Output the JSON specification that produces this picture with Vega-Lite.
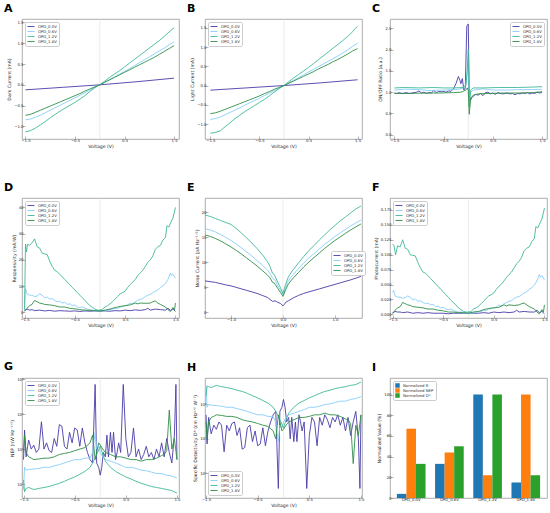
{
  "$schema": "https://vega.github.io/schema/vega-lite/v6.json",
  "autosize": {"type": "pad"},
  "padding": {"left": 3, "top": 2, "right": 3, "bottom": 2},
  "background": "white",
  "config": {
    "font": "DejaVu Sans",
    "view": {"stroke": "#999999", "strokeWidth": 0.8},
    "axis": {
      "domain": false, "grid": false, "tickSize": -3, "tickColor": "#888888", "tickWidth": 0.6,
      "labelFontSize": 3.8, "titleFontSize": 4.6, "titleFontWeight": "normal",
      "labelColor": "#222222", "titleColor": "#222222", "labelPadding": 2, "titlePadding": 2, "labelFlush": false
    },
    "legend": {
      "labelFontSize": 3.8, "symbolType": "stroke", "symbolSize": 50, "symbolStrokeWidth": 1.2,
      "clipHeight": 5, "rowPadding": 0, "padding": 2, "fillColor": "white", "strokeColor": "#cccccc",
      "cornerRadius": 1.5, "offset": 3, "labelOffset": 3, "labelColor": "#333333"
    },
    "title": {"anchor": "start", "frame": "group", "fontSize": 11, "fontWeight": "bold", "dx": -18, "offset": 5, "color": "black"},
    "line": {"strokeWidth": 0.9, "clip": true}
  },
  "datasets": {
    "curves": [
      {"p":"A","s":"OPD_0.0V","v":-1.5,"y":-0.12},{"p":"A","s":"OPD_0.0V","v":-0.75,"y":-0.06},{"p":"A","s":"OPD_0.0V","v":0,"y":0},{"p":"A","s":"OPD_0.0V","v":0.75,"y":0.075},{"p":"A","s":"OPD_0.0V","v":1.5,"y":0.16},
      {"p":"A","s":"OPD_0.6V","v":-1.5,"y":-0.84},{"p":"A","s":"OPD_0.6V","v":-1.4,"y":-0.82},{"p":"A","s":"OPD_0.6V","v":-1.3,"y":-0.78},{"p":"A","s":"OPD_0.6V","v":-1.2,"y":-0.73},{"p":"A","s":"OPD_0.6V","v":-1.1,"y":-0.67},{"p":"A","s":"OPD_0.6V","v":-1.0,"y":-0.61},{"p":"A","s":"OPD_0.6V","v":-0.9,"y":-0.55},{"p":"A","s":"OPD_0.6V","v":-0.8,"y":-0.49},{"p":"A","s":"OPD_0.6V","v":-0.7,"y":-0.43},{"p":"A","s":"OPD_0.6V","v":-0.6,"y":-0.37},{"p":"A","s":"OPD_0.6V","v":-0.5,"y":-0.31},{"p":"A","s":"OPD_0.6V","v":-0.4,"y":-0.25},{"p":"A","s":"OPD_0.6V","v":-0.3,"y":-0.19},{"p":"A","s":"OPD_0.6V","v":-0.2,"y":-0.13},{"p":"A","s":"OPD_0.6V","v":-0.1,"y":-0.06},{"p":"A","s":"OPD_0.6V","v":0,"y":0},{"p":"A","s":"OPD_0.6V","v":0.1,"y":0.06},{"p":"A","s":"OPD_0.6V","v":0.2,"y":0.13},{"p":"A","s":"OPD_0.6V","v":0.3,"y":0.19},{"p":"A","s":"OPD_0.6V","v":0.4,"y":0.26},{"p":"A","s":"OPD_0.6V","v":0.5,"y":0.32},{"p":"A","s":"OPD_0.6V","v":0.6,"y":0.39},{"p":"A","s":"OPD_0.6V","v":0.7,"y":0.46},{"p":"A","s":"OPD_0.6V","v":0.8,"y":0.53},{"p":"A","s":"OPD_0.6V","v":0.9,"y":0.6},{"p":"A","s":"OPD_0.6V","v":1.0,"y":0.67},{"p":"A","s":"OPD_0.6V","v":1.1,"y":0.74},{"p":"A","s":"OPD_0.6V","v":1.2,"y":0.81},{"p":"A","s":"OPD_0.6V","v":1.3,"y":0.88},{"p":"A","s":"OPD_0.6V","v":1.4,"y":0.96},{"p":"A","s":"OPD_0.6V","v":1.5,"y":1.03},
      {"p":"A","s":"OPD_1.2V","v":-1.5,"y":-1.13},{"p":"A","s":"OPD_1.2V","v":-1.4,"y":-1.1},{"p":"A","s":"OPD_1.2V","v":-1.3,"y":-1.04},{"p":"A","s":"OPD_1.2V","v":-1.2,"y":-0.96},{"p":"A","s":"OPD_1.2V","v":-1.1,"y":-0.88},{"p":"A","s":"OPD_1.2V","v":-1.0,"y":-0.79},{"p":"A","s":"OPD_1.2V","v":-0.9,"y":-0.71},{"p":"A","s":"OPD_1.2V","v":-0.8,"y":-0.63},{"p":"A","s":"OPD_1.2V","v":-0.7,"y":-0.56},{"p":"A","s":"OPD_1.2V","v":-0.6,"y":-0.49},{"p":"A","s":"OPD_1.2V","v":-0.5,"y":-0.42},{"p":"A","s":"OPD_1.2V","v":-0.4,"y":-0.34},{"p":"A","s":"OPD_1.2V","v":-0.3,"y":-0.26},{"p":"A","s":"OPD_1.2V","v":-0.2,"y":-0.16},{"p":"A","s":"OPD_1.2V","v":-0.1,"y":-0.07},{"p":"A","s":"OPD_1.2V","v":0,"y":0},{"p":"A","s":"OPD_1.2V","v":0.1,"y":0.09},{"p":"A","s":"OPD_1.2V","v":0.2,"y":0.18},{"p":"A","s":"OPD_1.2V","v":0.3,"y":0.26},{"p":"A","s":"OPD_1.2V","v":0.4,"y":0.34},{"p":"A","s":"OPD_1.2V","v":0.5,"y":0.43},{"p":"A","s":"OPD_1.2V","v":0.6,"y":0.52},{"p":"A","s":"OPD_1.2V","v":0.7,"y":0.61},{"p":"A","s":"OPD_1.2V","v":0.8,"y":0.7},{"p":"A","s":"OPD_1.2V","v":0.9,"y":0.79},{"p":"A","s":"OPD_1.2V","v":1.0,"y":0.88},{"p":"A","s":"OPD_1.2V","v":1.1,"y":0.97},{"p":"A","s":"OPD_1.2V","v":1.2,"y":1.06},{"p":"A","s":"OPD_1.2V","v":1.3,"y":1.16},{"p":"A","s":"OPD_1.2V","v":1.4,"y":1.27},{"p":"A","s":"OPD_1.2V","v":1.5,"y":1.37},
      {"p":"A","s":"OPD_1.8V","v":-1.5,"y":-0.73},{"p":"A","s":"OPD_1.8V","v":-1.4,"y":-0.71},{"p":"A","s":"OPD_1.8V","v":-1.3,"y":-0.66},{"p":"A","s":"OPD_1.8V","v":-1.2,"y":-0.61},{"p":"A","s":"OPD_1.8V","v":-1.1,"y":-0.56},{"p":"A","s":"OPD_1.8V","v":-1.0,"y":-0.51},{"p":"A","s":"OPD_1.8V","v":-0.9,"y":-0.46},{"p":"A","s":"OPD_1.8V","v":-0.8,"y":-0.41},{"p":"A","s":"OPD_1.8V","v":-0.7,"y":-0.36},{"p":"A","s":"OPD_1.8V","v":-0.6,"y":-0.31},{"p":"A","s":"OPD_1.8V","v":-0.5,"y":-0.26},{"p":"A","s":"OPD_1.8V","v":-0.4,"y":-0.21},{"p":"A","s":"OPD_1.8V","v":-0.3,"y":-0.15},{"p":"A","s":"OPD_1.8V","v":-0.2,"y":-0.1},{"p":"A","s":"OPD_1.8V","v":-0.1,"y":-0.05},{"p":"A","s":"OPD_1.8V","v":0,"y":0},{"p":"A","s":"OPD_1.8V","v":0.1,"y":0.06},{"p":"A","s":"OPD_1.8V","v":0.2,"y":0.12},{"p":"A","s":"OPD_1.8V","v":0.3,"y":0.18},{"p":"A","s":"OPD_1.8V","v":0.4,"y":0.24},{"p":"A","s":"OPD_1.8V","v":0.5,"y":0.3},{"p":"A","s":"OPD_1.8V","v":0.6,"y":0.36},{"p":"A","s":"OPD_1.8V","v":0.7,"y":0.42},{"p":"A","s":"OPD_1.8V","v":0.8,"y":0.48},{"p":"A","s":"OPD_1.8V","v":0.9,"y":0.54},{"p":"A","s":"OPD_1.8V","v":1.0,"y":0.6},{"p":"A","s":"OPD_1.8V","v":1.1,"y":0.66},{"p":"A","s":"OPD_1.8V","v":1.2,"y":0.73},{"p":"A","s":"OPD_1.8V","v":1.3,"y":0.8},{"p":"A","s":"OPD_1.8V","v":1.4,"y":0.87},{"p":"A","s":"OPD_1.8V","v":1.5,"y":0.94},

      {"p":"B","s":"OPD_0.0V","v":-1.5,"y":-0.12},{"p":"B","s":"OPD_0.0V","v":-0.75,"y":-0.06},{"p":"B","s":"OPD_0.0V","v":0,"y":0},{"p":"B","s":"OPD_0.0V","v":0.75,"y":0.07},{"p":"B","s":"OPD_0.0V","v":1.5,"y":0.15},
      {"p":"B","s":"OPD_0.6V","v":-1.5,"y":-0.88},{"p":"B","s":"OPD_0.6V","v":-1.4,"y":-0.86},{"p":"B","s":"OPD_0.6V","v":-1.3,"y":-0.82},{"p":"B","s":"OPD_0.6V","v":-1.2,"y":-0.76},{"p":"B","s":"OPD_0.6V","v":-1.1,"y":-0.7},{"p":"B","s":"OPD_0.6V","v":-1.0,"y":-0.64},{"p":"B","s":"OPD_0.6V","v":-0.9,"y":-0.58},{"p":"B","s":"OPD_0.6V","v":-0.8,"y":-0.51},{"p":"B","s":"OPD_0.6V","v":-0.7,"y":-0.45},{"p":"B","s":"OPD_0.6V","v":-0.6,"y":-0.39},{"p":"B","s":"OPD_0.6V","v":-0.5,"y":-0.33},{"p":"B","s":"OPD_0.6V","v":-0.4,"y":-0.26},{"p":"B","s":"OPD_0.6V","v":-0.3,"y":-0.2},{"p":"B","s":"OPD_0.6V","v":-0.2,"y":-0.14},{"p":"B","s":"OPD_0.6V","v":-0.1,"y":-0.07},{"p":"B","s":"OPD_0.6V","v":0,"y":0},{"p":"B","s":"OPD_0.6V","v":0.1,"y":0.07},{"p":"B","s":"OPD_0.6V","v":0.2,"y":0.14},{"p":"B","s":"OPD_0.6V","v":0.3,"y":0.21},{"p":"B","s":"OPD_0.6V","v":0.4,"y":0.28},{"p":"B","s":"OPD_0.6V","v":0.5,"y":0.35},{"p":"B","s":"OPD_0.6V","v":0.6,"y":0.42},{"p":"B","s":"OPD_0.6V","v":0.7,"y":0.49},{"p":"B","s":"OPD_0.6V","v":0.8,"y":0.56},{"p":"B","s":"OPD_0.6V","v":0.9,"y":0.63},{"p":"B","s":"OPD_0.6V","v":1.0,"y":0.7},{"p":"B","s":"OPD_0.6V","v":1.1,"y":0.77},{"p":"B","s":"OPD_0.6V","v":1.2,"y":0.85},{"p":"B","s":"OPD_0.6V","v":1.3,"y":0.93},{"p":"B","s":"OPD_0.6V","v":1.4,"y":1.02},{"p":"B","s":"OPD_0.6V","v":1.5,"y":1.1},
      {"p":"B","s":"OPD_1.2V","v":-1.5,"y":-1.24},{"p":"B","s":"OPD_1.2V","v":-1.4,"y":-1.22},{"p":"B","s":"OPD_1.2V","v":-1.3,"y":-1.18},{"p":"B","s":"OPD_1.2V","v":-1.2,"y":-1.07},{"p":"B","s":"OPD_1.2V","v":-1.1,"y":-0.97},{"p":"B","s":"OPD_1.2V","v":-1.0,"y":-0.86},{"p":"B","s":"OPD_1.2V","v":-0.9,"y":-0.77},{"p":"B","s":"OPD_1.2V","v":-0.8,"y":-0.68},{"p":"B","s":"OPD_1.2V","v":-0.7,"y":-0.6},{"p":"B","s":"OPD_1.2V","v":-0.6,"y":-0.52},{"p":"B","s":"OPD_1.2V","v":-0.5,"y":-0.44},{"p":"B","s":"OPD_1.2V","v":-0.4,"y":-0.36},{"p":"B","s":"OPD_1.2V","v":-0.3,"y":-0.27},{"p":"B","s":"OPD_1.2V","v":-0.2,"y":-0.17},{"p":"B","s":"OPD_1.2V","v":-0.1,"y":-0.08},{"p":"B","s":"OPD_1.2V","v":0,"y":0},{"p":"B","s":"OPD_1.2V","v":0.1,"y":0.1},{"p":"B","s":"OPD_1.2V","v":0.2,"y":0.2},{"p":"B","s":"OPD_1.2V","v":0.3,"y":0.29},{"p":"B","s":"OPD_1.2V","v":0.4,"y":0.38},{"p":"B","s":"OPD_1.2V","v":0.5,"y":0.47},{"p":"B","s":"OPD_1.2V","v":0.6,"y":0.57},{"p":"B","s":"OPD_1.2V","v":0.7,"y":0.67},{"p":"B","s":"OPD_1.2V","v":0.8,"y":0.77},{"p":"B","s":"OPD_1.2V","v":0.9,"y":0.87},{"p":"B","s":"OPD_1.2V","v":1.0,"y":0.97},{"p":"B","s":"OPD_1.2V","v":1.1,"y":1.07},{"p":"B","s":"OPD_1.2V","v":1.2,"y":1.17},{"p":"B","s":"OPD_1.2V","v":1.3,"y":1.28},{"p":"B","s":"OPD_1.2V","v":1.4,"y":1.4},{"p":"B","s":"OPD_1.2V","v":1.45,"y":1.48},{"p":"B","s":"OPD_1.2V","v":1.5,"y":1.54},
      {"p":"B","s":"OPD_1.8V","v":-1.5,"y":-0.73},{"p":"B","s":"OPD_1.8V","v":-1.4,"y":-0.71},{"p":"B","s":"OPD_1.8V","v":-1.3,"y":-0.67},{"p":"B","s":"OPD_1.8V","v":-1.2,"y":-0.62},{"p":"B","s":"OPD_1.8V","v":-1.1,"y":-0.57},{"p":"B","s":"OPD_1.8V","v":-1.0,"y":-0.52},{"p":"B","s":"OPD_1.8V","v":-0.9,"y":-0.47},{"p":"B","s":"OPD_1.8V","v":-0.8,"y":-0.42},{"p":"B","s":"OPD_1.8V","v":-0.7,"y":-0.37},{"p":"B","s":"OPD_1.8V","v":-0.6,"y":-0.32},{"p":"B","s":"OPD_1.8V","v":-0.5,"y":-0.27},{"p":"B","s":"OPD_1.8V","v":-0.4,"y":-0.21},{"p":"B","s":"OPD_1.8V","v":-0.3,"y":-0.16},{"p":"B","s":"OPD_1.8V","v":-0.2,"y":-0.1},{"p":"B","s":"OPD_1.8V","v":-0.1,"y":-0.05},{"p":"B","s":"OPD_1.8V","v":0,"y":0},{"p":"B","s":"OPD_1.8V","v":0.1,"y":0.06},{"p":"B","s":"OPD_1.8V","v":0.2,"y":0.12},{"p":"B","s":"OPD_1.8V","v":0.3,"y":0.18},{"p":"B","s":"OPD_1.8V","v":0.4,"y":0.24},{"p":"B","s":"OPD_1.8V","v":0.5,"y":0.3},{"p":"B","s":"OPD_1.8V","v":0.6,"y":0.36},{"p":"B","s":"OPD_1.8V","v":0.7,"y":0.43},{"p":"B","s":"OPD_1.8V","v":0.8,"y":0.49},{"p":"B","s":"OPD_1.8V","v":0.9,"y":0.55},{"p":"B","s":"OPD_1.8V","v":1.0,"y":0.62},{"p":"B","s":"OPD_1.8V","v":1.1,"y":0.68},{"p":"B","s":"OPD_1.8V","v":1.2,"y":0.75},{"p":"B","s":"OPD_1.8V","v":1.3,"y":0.82},{"p":"B","s":"OPD_1.8V","v":1.4,"y":0.9},{"p":"B","s":"OPD_1.8V","v":1.5,"y":0.96},

      {"p":"C","s":"OPD_0.0V","v":-1.5,"y":0.98},{"p":"C","s":"OPD_0.0V","v":-1.45,"y":0.97},{"p":"C","s":"OPD_0.0V","v":-1.4,"y":0.99},{"p":"C","s":"OPD_0.0V","v":-1.35,"y":0.97},{"p":"C","s":"OPD_0.0V","v":-1.3,"y":0.98},{"p":"C","s":"OPD_0.0V","v":-1.25,"y":0.99},{"p":"C","s":"OPD_0.0V","v":-1.2,"y":0.97},{"p":"C","s":"OPD_0.0V","v":-1.15,"y":0.98},{"p":"C","s":"OPD_0.0V","v":-1.1,"y":0.99},{"p":"C","s":"OPD_0.0V","v":-1.05,"y":1.0},{"p":"C","s":"OPD_0.0V","v":-1.0,"y":1.03},{"p":"C","s":"OPD_0.0V","v":-0.95,"y":0.98},{"p":"C","s":"OPD_0.0V","v":-0.9,"y":1.0},{"p":"C","s":"OPD_0.0V","v":-0.85,"y":0.97},{"p":"C","s":"OPD_0.0V","v":-0.8,"y":0.99},{"p":"C","s":"OPD_0.0V","v":-0.75,"y":0.98},{"p":"C","s":"OPD_0.0V","v":-0.7,"y":1.04},{"p":"C","s":"OPD_0.0V","v":-0.65,"y":0.99},{"p":"C","s":"OPD_0.0V","v":-0.6,"y":1.02},{"p":"C","s":"OPD_0.0V","v":-0.55,"y":1.01},{"p":"C","s":"OPD_0.0V","v":-0.5,"y":1.02},{"p":"C","s":"OPD_0.0V","v":-0.45,"y":1.0},{"p":"C","s":"OPD_0.0V","v":-0.4,"y":1.03},{"p":"C","s":"OPD_0.0V","v":-0.35,"y":1.02},{"p":"C","s":"OPD_0.0V","v":-0.3,"y":1.08},{"p":"C","s":"OPD_0.0V","v":-0.25,"y":1.2},{"p":"C","s":"OPD_0.0V","v":-0.2,"y":1.37},{"p":"C","s":"OPD_0.0V","v":-0.17,"y":1.28},{"p":"C","s":"OPD_0.0V","v":-0.15,"y":1.2},{"p":"C","s":"OPD_0.0V","v":-0.12,"y":1.32},{"p":"C","s":"OPD_0.0V","v":-0.09,"y":1.05},{"p":"C","s":"OPD_0.0V","v":-0.06,"y":1.1},{"p":"C","s":"OPD_0.0V","v":-0.03,"y":2.55},{"p":"C","s":"OPD_0.0V","v":0.0,"y":2.6},{"p":"C","s":"OPD_0.0V","v":0.02,"y":1.0},{"p":"C","s":"OPD_0.0V","v":0.04,"y":0.8},{"p":"C","s":"OPD_0.0V","v":0.07,"y":0.87},{"p":"C","s":"OPD_0.0V","v":0.1,"y":0.9},{"p":"C","s":"OPD_0.0V","v":0.15,"y":0.95},{"p":"C","s":"OPD_0.0V","v":0.2,"y":0.93},{"p":"C","s":"OPD_0.0V","v":0.25,"y":0.97},{"p":"C","s":"OPD_0.0V","v":0.3,"y":0.92},{"p":"C","s":"OPD_0.0V","v":0.35,"y":0.99},{"p":"C","s":"OPD_0.0V","v":0.4,"y":1.0},{"p":"C","s":"OPD_0.0V","v":0.45,"y":0.96},{"p":"C","s":"OPD_0.0V","v":0.5,"y":0.98},{"p":"C","s":"OPD_0.0V","v":0.55,"y":0.95},{"p":"C","s":"OPD_0.0V","v":0.6,"y":0.99},{"p":"C","s":"OPD_0.0V","v":0.65,"y":0.97},{"p":"C","s":"OPD_0.0V","v":0.7,"y":0.96},{"p":"C","s":"OPD_0.0V","v":0.75,"y":0.97},{"p":"C","s":"OPD_0.0V","v":0.8,"y":0.98},{"p":"C","s":"OPD_0.0V","v":0.85,"y":0.96},{"p":"C","s":"OPD_0.0V","v":0.9,"y":0.97},{"p":"C","s":"OPD_0.0V","v":0.95,"y":0.94},{"p":"C","s":"OPD_0.0V","v":1.0,"y":0.97},{"p":"C","s":"OPD_0.0V","v":1.05,"y":0.96},{"p":"C","s":"OPD_0.0V","v":1.1,"y":0.98},{"p":"C","s":"OPD_0.0V","v":1.15,"y":0.97},{"p":"C","s":"OPD_0.0V","v":1.2,"y":0.99},{"p":"C","s":"OPD_0.0V","v":1.25,"y":0.96},{"p":"C","s":"OPD_0.0V","v":1.3,"y":0.98},{"p":"C","s":"OPD_0.0V","v":1.35,"y":0.97},{"p":"C","s":"OPD_0.0V","v":1.4,"y":1.0},{"p":"C","s":"OPD_0.0V","v":1.45,"y":0.98},{"p":"C","s":"OPD_0.0V","v":1.5,"y":1.0},
      {"p":"C","s":"OPD_0.6V","v":-1.5,"y":1.05},{"p":"C","s":"OPD_0.6V","v":-1.3,"y":1.07},{"p":"C","s":"OPD_0.6V","v":-1.0,"y":1.06},{"p":"C","s":"OPD_0.6V","v":-0.8,"y":1.04},{"p":"C","s":"OPD_0.6V","v":-0.5,"y":1.05},{"p":"C","s":"OPD_0.6V","v":-0.2,"y":1.07},{"p":"C","s":"OPD_0.6V","v":-0.1,"y":1.1},{"p":"C","s":"OPD_0.6V","v":-0.05,"y":1.15},{"p":"C","s":"OPD_0.6V","v":-0.02,"y":1.5},{"p":"C","s":"OPD_0.6V","v":0.0,"y":1.8},{"p":"C","s":"OPD_0.6V","v":0.02,"y":0.9},{"p":"C","s":"OPD_0.6V","v":0.05,"y":1.0},{"p":"C","s":"OPD_0.6V","v":0.1,"y":1.05},{"p":"C","s":"OPD_0.6V","v":0.3,"y":1.08},{"p":"C","s":"OPD_0.6V","v":0.5,"y":1.05},{"p":"C","s":"OPD_0.6V","v":0.8,"y":1.05},{"p":"C","s":"OPD_0.6V","v":1.0,"y":1.06},{"p":"C","s":"OPD_0.6V","v":1.3,"y":1.06},{"p":"C","s":"OPD_0.6V","v":1.5,"y":1.07},
      {"p":"C","s":"OPD_1.2V","v":-1.5,"y":1.1},{"p":"C","s":"OPD_1.2V","v":-1.3,"y":1.11},{"p":"C","s":"OPD_1.2V","v":-1.0,"y":1.1},{"p":"C","s":"OPD_1.2V","v":-0.7,"y":1.11},{"p":"C","s":"OPD_1.2V","v":-0.5,"y":1.1},{"p":"C","s":"OPD_1.2V","v":-0.3,"y":1.1},{"p":"C","s":"OPD_1.2V","v":-0.1,"y":1.11},{"p":"C","s":"OPD_1.2V","v":-0.05,"y":1.15},{"p":"C","s":"OPD_1.2V","v":-0.02,"y":1.5},{"p":"C","s":"OPD_1.2V","v":0.0,"y":2.0},{"p":"C","s":"OPD_1.2V","v":0.02,"y":0.65},{"p":"C","s":"OPD_1.2V","v":0.05,"y":1.05},{"p":"C","s":"OPD_1.2V","v":0.1,"y":1.1},{"p":"C","s":"OPD_1.2V","v":0.3,"y":1.1},{"p":"C","s":"OPD_1.2V","v":0.6,"y":1.11},{"p":"C","s":"OPD_1.2V","v":1.0,"y":1.11},{"p":"C","s":"OPD_1.2V","v":1.3,"y":1.12},{"p":"C","s":"OPD_1.2V","v":1.5,"y":1.13},
      {"p":"C","s":"OPD_1.8V","v":-1.5,"y":0.97},{"p":"C","s":"OPD_1.8V","v":-1.2,"y":0.97},{"p":"C","s":"OPD_1.8V","v":-0.9,"y":0.98},{"p":"C","s":"OPD_1.8V","v":-0.6,"y":0.98},{"p":"C","s":"OPD_1.8V","v":-0.3,"y":0.99},{"p":"C","s":"OPD_1.8V","v":-0.15,"y":1.0},{"p":"C","s":"OPD_1.8V","v":-0.1,"y":1.02},{"p":"C","s":"OPD_1.8V","v":-0.05,"y":1.05},{"p":"C","s":"OPD_1.8V","v":-0.02,"y":1.1},{"p":"C","s":"OPD_1.8V","v":0.0,"y":1.05},{"p":"C","s":"OPD_1.8V","v":0.02,"y":0.48},{"p":"C","s":"OPD_1.8V","v":0.05,"y":0.85},{"p":"C","s":"OPD_1.8V","v":0.1,"y":0.93},{"p":"C","s":"OPD_1.8V","v":0.2,"y":0.96},{"p":"C","s":"OPD_1.8V","v":0.4,"y":0.97},{"p":"C","s":"OPD_1.8V","v":0.7,"y":0.98},{"p":"C","s":"OPD_1.8V","v":1.0,"y":0.98},{"p":"C","s":"OPD_1.8V","v":1.3,"y":0.99},{"p":"C","s":"OPD_1.8V","v":1.5,"y":1.01},

      {"p":"D","s":"OPD_0.0V","v":-1.5,"y":0.5},{"p":"D","s":"OPD_0.0V","v":-1.45,"y":1.2},{"p":"D","s":"OPD_0.0V","v":-1.4,"y":0.8},{"p":"D","s":"OPD_0.0V","v":-1.35,"y":1.0},{"p":"D","s":"OPD_0.0V","v":-1.3,"y":0.6},{"p":"D","s":"OPD_0.0V","v":-1.2,"y":0.8},{"p":"D","s":"OPD_0.0V","v":-1.1,"y":0.5},{"p":"D","s":"OPD_0.0V","v":-1.0,"y":0.7},{"p":"D","s":"OPD_0.0V","v":-0.9,"y":0.4},{"p":"D","s":"OPD_0.0V","v":-0.8,"y":0.6},{"p":"D","s":"OPD_0.0V","v":-0.7,"y":0.5},{"p":"D","s":"OPD_0.0V","v":-0.6,"y":0.4},{"p":"D","s":"OPD_0.0V","v":-0.5,"y":0.5},{"p":"D","s":"OPD_0.0V","v":-0.4,"y":0.3},{"p":"D","s":"OPD_0.0V","v":-0.3,"y":0.5},{"p":"D","s":"OPD_0.0V","v":-0.2,"y":0.4},{"p":"D","s":"OPD_0.0V","v":-0.1,"y":0.5},{"p":"D","s":"OPD_0.0V","v":0,"y":0.4},{"p":"D","s":"OPD_0.0V","v":0.1,"y":0.5},{"p":"D","s":"OPD_0.0V","v":0.2,"y":0.4},{"p":"D","s":"OPD_0.0V","v":0.3,"y":0.6},{"p":"D","s":"OPD_0.0V","v":0.4,"y":0.5},{"p":"D","s":"OPD_0.0V","v":0.5,"y":0.8},{"p":"D","s":"OPD_0.0V","v":0.6,"y":0.6},{"p":"D","s":"OPD_0.0V","v":0.7,"y":0.9},{"p":"D","s":"OPD_0.0V","v":0.8,"y":0.7},{"p":"D","s":"OPD_0.0V","v":0.9,"y":1.0},{"p":"D","s":"OPD_0.0V","v":0.95,"y":1.5},{"p":"D","s":"OPD_0.0V","v":1.0,"y":0.8},{"p":"D","s":"OPD_0.0V","v":1.1,"y":1.2},{"p":"D","s":"OPD_0.0V","v":1.2,"y":1.0},{"p":"D","s":"OPD_0.0V","v":1.3,"y":0.8},{"p":"D","s":"OPD_0.0V","v":1.35,"y":1.5},{"p":"D","s":"OPD_0.0V","v":1.4,"y":0.7},{"p":"D","s":"OPD_0.0V","v":1.45,"y":1.2},{"p":"D","s":"OPD_0.0V","v":1.5,"y":0.3},
      {"p":"D","s":"OPD_0.6V","v":-1.5,"y":1},{"p":"D","s":"OPD_0.6V","v":-1.48,"y":9},{"p":"D","s":"OPD_0.6V","v":-1.45,"y":7},{"p":"D","s":"OPD_0.6V","v":-1.4,"y":6.5},{"p":"D","s":"OPD_0.6V","v":-1.35,"y":6.5},{"p":"D","s":"OPD_0.6V","v":-1.3,"y":6},{"p":"D","s":"OPD_0.6V","v":-1.25,"y":6.2},{"p":"D","s":"OPD_0.6V","v":-1.2,"y":7},{"p":"D","s":"OPD_0.6V","v":-1.15,"y":6.5},{"p":"D","s":"OPD_0.6V","v":-1.1,"y":5.5},{"p":"D","s":"OPD_0.6V","v":-1.05,"y":5.8},{"p":"D","s":"OPD_0.6V","v":-1.0,"y":5},{"p":"D","s":"OPD_0.6V","v":-0.95,"y":5.2},{"p":"D","s":"OPD_0.6V","v":-0.9,"y":4.5},{"p":"D","s":"OPD_0.6V","v":-0.85,"y":4},{"p":"D","s":"OPD_0.6V","v":-0.8,"y":4.2},{"p":"D","s":"OPD_0.6V","v":-0.75,"y":3.5},{"p":"D","s":"OPD_0.6V","v":-0.7,"y":3.8},{"p":"D","s":"OPD_0.6V","v":-0.65,"y":3},{"p":"D","s":"OPD_0.6V","v":-0.6,"y":3.2},{"p":"D","s":"OPD_0.6V","v":-0.55,"y":2.5},{"p":"D","s":"OPD_0.6V","v":-0.5,"y":2.8},{"p":"D","s":"OPD_0.6V","v":-0.45,"y":2},{"p":"D","s":"OPD_0.6V","v":-0.4,"y":1.8},{"p":"D","s":"OPD_0.6V","v":-0.35,"y":2},{"p":"D","s":"OPD_0.6V","v":-0.3,"y":1.5},{"p":"D","s":"OPD_0.6V","v":-0.25,"y":1.2},{"p":"D","s":"OPD_0.6V","v":-0.2,"y":1},{"p":"D","s":"OPD_0.6V","v":-0.15,"y":0.8},{"p":"D","s":"OPD_0.6V","v":-0.1,"y":0.6},{"p":"D","s":"OPD_0.6V","v":-0.05,"y":0.5},{"p":"D","s":"OPD_0.6V","v":0,"y":0.5},{"p":"D","s":"OPD_0.6V","v":0.05,"y":0.5},{"p":"D","s":"OPD_0.6V","v":0.1,"y":0.6},{"p":"D","s":"OPD_0.6V","v":0.15,"y":0.8},{"p":"D","s":"OPD_0.6V","v":0.2,"y":1},{"p":"D","s":"OPD_0.6V","v":0.25,"y":1.2},{"p":"D","s":"OPD_0.6V","v":0.3,"y":1.5},{"p":"D","s":"OPD_0.6V","v":0.35,"y":1.3},{"p":"D","s":"OPD_0.6V","v":0.4,"y":2},{"p":"D","s":"OPD_0.6V","v":0.45,"y":2.2},{"p":"D","s":"OPD_0.6V","v":0.5,"y":2.5},{"p":"D","s":"OPD_0.6V","v":0.55,"y":2.8},{"p":"D","s":"OPD_0.6V","v":0.6,"y":3.5},{"p":"D","s":"OPD_0.6V","v":0.65,"y":3.2},{"p":"D","s":"OPD_0.6V","v":0.7,"y":4},{"p":"D","s":"OPD_0.6V","v":0.75,"y":4.5},{"p":"D","s":"OPD_0.6V","v":0.8,"y":5},{"p":"D","s":"OPD_0.6V","v":0.85,"y":5.2},{"p":"D","s":"OPD_0.6V","v":0.9,"y":6},{"p":"D","s":"OPD_0.6V","v":0.95,"y":6.5},{"p":"D","s":"OPD_0.6V","v":1.0,"y":6.8},{"p":"D","s":"OPD_0.6V","v":1.05,"y":7.5},{"p":"D","s":"OPD_0.6V","v":1.1,"y":8},{"p":"D","s":"OPD_0.6V","v":1.15,"y":8.5},{"p":"D","s":"OPD_0.6V","v":1.2,"y":9.5},{"p":"D","s":"OPD_0.6V","v":1.25,"y":10},{"p":"D","s":"OPD_0.6V","v":1.3,"y":11},{"p":"D","s":"OPD_0.6V","v":1.35,"y":12.5},{"p":"D","s":"OPD_0.6V","v":1.4,"y":15},{"p":"D","s":"OPD_0.6V","v":1.42,"y":14},{"p":"D","s":"OPD_0.6V","v":1.45,"y":14.5},{"p":"D","s":"OPD_0.6V","v":1.5,"y":13},
      {"p":"D","s":"OPD_1.2V","v":-1.5,"y":1},{"p":"D","s":"OPD_1.2V","v":-1.48,"y":26},{"p":"D","s":"OPD_1.2V","v":-1.46,"y":23},{"p":"D","s":"OPD_1.2V","v":-1.44,"y":26},{"p":"D","s":"OPD_1.2V","v":-1.4,"y":25.5},{"p":"D","s":"OPD_1.2V","v":-1.35,"y":26.5},{"p":"D","s":"OPD_1.2V","v":-1.3,"y":28},{"p":"D","s":"OPD_1.2V","v":-1.25,"y":25},{"p":"D","s":"OPD_1.2V","v":-1.2,"y":24.5},{"p":"D","s":"OPD_1.2V","v":-1.15,"y":22.5},{"p":"D","s":"OPD_1.2V","v":-1.1,"y":22.3},{"p":"D","s":"OPD_1.2V","v":-1.05,"y":22},{"p":"D","s":"OPD_1.2V","v":-1.0,"y":19.5},{"p":"D","s":"OPD_1.2V","v":-0.95,"y":17.5},{"p":"D","s":"OPD_1.2V","v":-0.9,"y":16},{"p":"D","s":"OPD_1.2V","v":-0.85,"y":15.5},{"p":"D","s":"OPD_1.2V","v":-0.8,"y":14.5},{"p":"D","s":"OPD_1.2V","v":-0.75,"y":13.5},{"p":"D","s":"OPD_1.2V","v":-0.7,"y":12.5},{"p":"D","s":"OPD_1.2V","v":-0.65,"y":11.5},{"p":"D","s":"OPD_1.2V","v":-0.6,"y":10.5},{"p":"D","s":"OPD_1.2V","v":-0.55,"y":9.5},{"p":"D","s":"OPD_1.2V","v":-0.5,"y":8.5},{"p":"D","s":"OPD_1.2V","v":-0.45,"y":7.5},{"p":"D","s":"OPD_1.2V","v":-0.4,"y":6.5},{"p":"D","s":"OPD_1.2V","v":-0.35,"y":5.5},{"p":"D","s":"OPD_1.2V","v":-0.3,"y":4.5},{"p":"D","s":"OPD_1.2V","v":-0.25,"y":3.5},{"p":"D","s":"OPD_1.2V","v":-0.2,"y":2.5},{"p":"D","s":"OPD_1.2V","v":-0.15,"y":1.8},{"p":"D","s":"OPD_1.2V","v":-0.1,"y":1.2},{"p":"D","s":"OPD_1.2V","v":-0.05,"y":0.8},{"p":"D","s":"OPD_1.2V","v":0,"y":0.8},{"p":"D","s":"OPD_1.2V","v":0.05,"y":1.2},{"p":"D","s":"OPD_1.2V","v":0.1,"y":2},{"p":"D","s":"OPD_1.2V","v":0.15,"y":2.5},{"p":"D","s":"OPD_1.2V","v":0.2,"y":3.2},{"p":"D","s":"OPD_1.2V","v":0.25,"y":4},{"p":"D","s":"OPD_1.2V","v":0.3,"y":5},{"p":"D","s":"OPD_1.2V","v":0.35,"y":6},{"p":"D","s":"OPD_1.2V","v":0.4,"y":7},{"p":"D","s":"OPD_1.2V","v":0.45,"y":7.5},{"p":"D","s":"OPD_1.2V","v":0.5,"y":8},{"p":"D","s":"OPD_1.2V","v":0.55,"y":9.5},{"p":"D","s":"OPD_1.2V","v":0.6,"y":10.5},{"p":"D","s":"OPD_1.2V","v":0.65,"y":11.5},{"p":"D","s":"OPD_1.2V","v":0.7,"y":12.5},{"p":"D","s":"OPD_1.2V","v":0.75,"y":14},{"p":"D","s":"OPD_1.2V","v":0.8,"y":15},{"p":"D","s":"OPD_1.2V","v":0.85,"y":16},{"p":"D","s":"OPD_1.2V","v":0.9,"y":17.5},{"p":"D","s":"OPD_1.2V","v":0.95,"y":19},{"p":"D","s":"OPD_1.2V","v":1.0,"y":20},{"p":"D","s":"OPD_1.2V","v":1.05,"y":21.5},{"p":"D","s":"OPD_1.2V","v":1.1,"y":24},{"p":"D","s":"OPD_1.2V","v":1.15,"y":25},{"p":"D","s":"OPD_1.2V","v":1.2,"y":25.5},{"p":"D","s":"OPD_1.2V","v":1.25,"y":27.5},{"p":"D","s":"OPD_1.2V","v":1.3,"y":28.5},{"p":"D","s":"OPD_1.2V","v":1.33,"y":33},{"p":"D","s":"OPD_1.2V","v":1.37,"y":32.5},{"p":"D","s":"OPD_1.2V","v":1.4,"y":34},{"p":"D","s":"OPD_1.2V","v":1.45,"y":36},{"p":"D","s":"OPD_1.2V","v":1.5,"y":40},
      {"p":"D","s":"OPD_1.8V","v":-1.5,"y":0.5},{"p":"D","s":"OPD_1.8V","v":-1.45,"y":1.5},{"p":"D","s":"OPD_1.8V","v":-1.4,"y":2.5},{"p":"D","s":"OPD_1.8V","v":-1.35,"y":3},{"p":"D","s":"OPD_1.8V","v":-1.3,"y":4.5},{"p":"D","s":"OPD_1.8V","v":-1.25,"y":4},{"p":"D","s":"OPD_1.8V","v":-1.2,"y":3.5},{"p":"D","s":"OPD_1.8V","v":-1.15,"y":3.3},{"p":"D","s":"OPD_1.8V","v":-1.1,"y":3},{"p":"D","s":"OPD_1.8V","v":-1.0,"y":2.8},{"p":"D","s":"OPD_1.8V","v":-0.9,"y":2.5},{"p":"D","s":"OPD_1.8V","v":-0.8,"y":2},{"p":"D","s":"OPD_1.8V","v":-0.7,"y":2},{"p":"D","s":"OPD_1.8V","v":-0.6,"y":1.5},{"p":"D","s":"OPD_1.8V","v":-0.5,"y":1.3},{"p":"D","s":"OPD_1.8V","v":-0.4,"y":1},{"p":"D","s":"OPD_1.8V","v":-0.3,"y":0.8},{"p":"D","s":"OPD_1.8V","v":-0.2,"y":0.7},{"p":"D","s":"OPD_1.8V","v":-0.1,"y":0.6},{"p":"D","s":"OPD_1.8V","v":0,"y":0.5},{"p":"D","s":"OPD_1.8V","v":0.1,"y":0.8},{"p":"D","s":"OPD_1.8V","v":0.2,"y":1.2},{"p":"D","s":"OPD_1.8V","v":0.3,"y":1.8},{"p":"D","s":"OPD_1.8V","v":0.4,"y":2.2},{"p":"D","s":"OPD_1.8V","v":0.5,"y":2.5},{"p":"D","s":"OPD_1.8V","v":0.6,"y":2.8},{"p":"D","s":"OPD_1.8V","v":0.7,"y":3.5},{"p":"D","s":"OPD_1.8V","v":0.75,"y":3.2},{"p":"D","s":"OPD_1.8V","v":0.8,"y":3.5},{"p":"D","s":"OPD_1.8V","v":0.9,"y":3.4},{"p":"D","s":"OPD_1.8V","v":1.0,"y":3.5},{"p":"D","s":"OPD_1.8V","v":1.05,"y":4},{"p":"D","s":"OPD_1.8V","v":1.1,"y":4.3},{"p":"D","s":"OPD_1.8V","v":1.15,"y":3.5},{"p":"D","s":"OPD_1.8V","v":1.2,"y":3},{"p":"D","s":"OPD_1.8V","v":1.25,"y":2.5},{"p":"D","s":"OPD_1.8V","v":1.3,"y":2},{"p":"D","s":"OPD_1.8V","v":1.35,"y":1},{"p":"D","s":"OPD_1.8V","v":1.4,"y":0.3},{"p":"D","s":"OPD_1.8V","v":1.45,"y":1.8},{"p":"D","s":"OPD_1.8V","v":1.48,"y":0.8},{"p":"D","s":"OPD_1.8V","v":1.5,"y":3.5},

      {"p":"E","s":"OPD_0.0V","v":-1.5,"y":6.3},{"p":"E","s":"OPD_0.0V","v":-1.3,"y":6.0},{"p":"E","s":"OPD_0.0V","v":-1.1,"y":5.5},{"p":"E","s":"OPD_0.0V","v":-1.0,"y":5.3},{"p":"E","s":"OPD_0.0V","v":-0.9,"y":5.0},{"p":"E","s":"OPD_0.0V","v":-0.7,"y":4.4},{"p":"E","s":"OPD_0.0V","v":-0.5,"y":3.8},{"p":"E","s":"OPD_0.0V","v":-0.4,"y":3.4},{"p":"E","s":"OPD_0.0V","v":-0.3,"y":3.0},{"p":"E","s":"OPD_0.0V","v":-0.25,"y":2.6},{"p":"E","s":"OPD_0.0V","v":-0.2,"y":2.2},{"p":"E","s":"OPD_0.0V","v":-0.15,"y":2.3},{"p":"E","s":"OPD_0.0V","v":-0.1,"y":2.0},{"p":"E","s":"OPD_0.0V","v":-0.05,"y":1.8},{"p":"E","s":"OPD_0.0V","v":0,"y":1.3},{"p":"E","s":"OPD_0.0V","v":0.03,"y":1.6},{"p":"E","s":"OPD_0.0V","v":0.05,"y":2.0},{"p":"E","s":"OPD_0.0V","v":0.1,"y":2.3},{"p":"E","s":"OPD_0.0V","v":0.2,"y":2.9},{"p":"E","s":"OPD_0.0V","v":0.3,"y":3.4},{"p":"E","s":"OPD_0.0V","v":0.4,"y":3.8},{"p":"E","s":"OPD_0.0V","v":0.5,"y":4.1},{"p":"E","s":"OPD_0.0V","v":0.7,"y":4.7},{"p":"E","s":"OPD_0.0V","v":0.9,"y":5.3},{"p":"E","s":"OPD_0.0V","v":1.1,"y":5.9},{"p":"E","s":"OPD_0.0V","v":1.3,"y":6.5},{"p":"E","s":"OPD_0.0V","v":1.5,"y":7.2},
      {"p":"E","s":"OPD_0.6V","v":-1.5,"y":16.7},{"p":"E","s":"OPD_0.6V","v":-1.4,"y":16.5},{"p":"E","s":"OPD_0.6V","v":-1.3,"y":16.1},{"p":"E","s":"OPD_0.6V","v":-1.2,"y":15.6},{"p":"E","s":"OPD_0.6V","v":-1.1,"y":15.0},{"p":"E","s":"OPD_0.6V","v":-1.0,"y":14.4},{"p":"E","s":"OPD_0.6V","v":-0.9,"y":13.7},{"p":"E","s":"OPD_0.6V","v":-0.8,"y":12.9},{"p":"E","s":"OPD_0.6V","v":-0.7,"y":12.1},{"p":"E","s":"OPD_0.6V","v":-0.6,"y":11.3},{"p":"E","s":"OPD_0.6V","v":-0.5,"y":10.4},{"p":"E","s":"OPD_0.6V","v":-0.4,"y":9.5},{"p":"E","s":"OPD_0.6V","v":-0.3,"y":8.5},{"p":"E","s":"OPD_0.6V","v":-0.25,"y":7.8},{"p":"E","s":"OPD_0.6V","v":-0.2,"y":6.8},{"p":"E","s":"OPD_0.6V","v":-0.17,"y":6.6},{"p":"E","s":"OPD_0.6V","v":-0.15,"y":6.4},{"p":"E","s":"OPD_0.6V","v":-0.1,"y":5.3},{"p":"E","s":"OPD_0.6V","v":-0.05,"y":4.5},{"p":"E","s":"OPD_0.6V","v":0,"y":3.5},{"p":"E","s":"OPD_0.6V","v":0.05,"y":5.0},{"p":"E","s":"OPD_0.6V","v":0.1,"y":6.2},{"p":"E","s":"OPD_0.6V","v":0.15,"y":7.0},{"p":"E","s":"OPD_0.6V","v":0.2,"y":7.6},{"p":"E","s":"OPD_0.6V","v":0.3,"y":8.8},{"p":"E","s":"OPD_0.6V","v":0.4,"y":9.9},{"p":"E","s":"OPD_0.6V","v":0.5,"y":10.9},{"p":"E","s":"OPD_0.6V","v":0.6,"y":11.8},{"p":"E","s":"OPD_0.6V","v":0.7,"y":12.7},{"p":"E","s":"OPD_0.6V","v":0.8,"y":13.6},{"p":"E","s":"OPD_0.6V","v":0.9,"y":14.4},{"p":"E","s":"OPD_0.6V","v":1.0,"y":15.2},{"p":"E","s":"OPD_0.6V","v":1.1,"y":15.9},{"p":"E","s":"OPD_0.6V","v":1.2,"y":16.6},{"p":"E","s":"OPD_0.6V","v":1.3,"y":17.3},{"p":"E","s":"OPD_0.6V","v":1.4,"y":17.9},{"p":"E","s":"OPD_0.6V","v":1.5,"y":18.5},
      {"p":"E","s":"OPD_1.2V","v":-1.5,"y":19.5},{"p":"E","s":"OPD_1.2V","v":-1.4,"y":19.2},{"p":"E","s":"OPD_1.2V","v":-1.3,"y":18.8},{"p":"E","s":"OPD_1.2V","v":-1.2,"y":18.4},{"p":"E","s":"OPD_1.2V","v":-1.1,"y":18.0},{"p":"E","s":"OPD_1.2V","v":-1.0,"y":17.6},{"p":"E","s":"OPD_1.2V","v":-0.9,"y":16.8},{"p":"E","s":"OPD_1.2V","v":-0.8,"y":15.9},{"p":"E","s":"OPD_1.2V","v":-0.7,"y":14.9},{"p":"E","s":"OPD_1.2V","v":-0.6,"y":13.9},{"p":"E","s":"OPD_1.2V","v":-0.5,"y":12.8},{"p":"E","s":"OPD_1.2V","v":-0.4,"y":11.6},{"p":"E","s":"OPD_1.2V","v":-0.3,"y":10.2},{"p":"E","s":"OPD_1.2V","v":-0.25,"y":9.2},{"p":"E","s":"OPD_1.2V","v":-0.2,"y":7.8},{"p":"E","s":"OPD_1.2V","v":-0.17,"y":7.6},{"p":"E","s":"OPD_1.2V","v":-0.15,"y":7.2},{"p":"E","s":"OPD_1.2V","v":-0.1,"y":6.0},{"p":"E","s":"OPD_1.2V","v":-0.05,"y":5.0},{"p":"E","s":"OPD_1.2V","v":0,"y":3.8},{"p":"E","s":"OPD_1.2V","v":0.05,"y":5.6},{"p":"E","s":"OPD_1.2V","v":0.1,"y":7.0},{"p":"E","s":"OPD_1.2V","v":0.15,"y":7.9},{"p":"E","s":"OPD_1.2V","v":0.2,"y":8.6},{"p":"E","s":"OPD_1.2V","v":0.3,"y":9.9},{"p":"E","s":"OPD_1.2V","v":0.4,"y":11.2},{"p":"E","s":"OPD_1.2V","v":0.5,"y":12.4},{"p":"E","s":"OPD_1.2V","v":0.6,"y":13.4},{"p":"E","s":"OPD_1.2V","v":0.7,"y":14.5},{"p":"E","s":"OPD_1.2V","v":0.8,"y":15.5},{"p":"E","s":"OPD_1.2V","v":0.9,"y":16.5},{"p":"E","s":"OPD_1.2V","v":1.0,"y":17.4},{"p":"E","s":"OPD_1.2V","v":1.1,"y":18.3},{"p":"E","s":"OPD_1.2V","v":1.2,"y":19.1},{"p":"E","s":"OPD_1.2V","v":1.3,"y":19.9},{"p":"E","s":"OPD_1.2V","v":1.4,"y":20.7},{"p":"E","s":"OPD_1.2V","v":1.5,"y":21.3},
      {"p":"E","s":"OPD_1.8V","v":-1.5,"y":15.5},{"p":"E","s":"OPD_1.8V","v":-1.4,"y":15.2},{"p":"E","s":"OPD_1.8V","v":-1.3,"y":14.8},{"p":"E","s":"OPD_1.8V","v":-1.2,"y":14.3},{"p":"E","s":"OPD_1.8V","v":-1.1,"y":13.7},{"p":"E","s":"OPD_1.8V","v":-1.0,"y":13.1},{"p":"E","s":"OPD_1.8V","v":-0.9,"y":12.4},{"p":"E","s":"OPD_1.8V","v":-0.8,"y":11.7},{"p":"E","s":"OPD_1.8V","v":-0.7,"y":10.9},{"p":"E","s":"OPD_1.8V","v":-0.6,"y":10.1},{"p":"E","s":"OPD_1.8V","v":-0.5,"y":9.3},{"p":"E","s":"OPD_1.8V","v":-0.4,"y":8.4},{"p":"E","s":"OPD_1.8V","v":-0.3,"y":7.5},{"p":"E","s":"OPD_1.8V","v":-0.25,"y":6.9},{"p":"E","s":"OPD_1.8V","v":-0.2,"y":6.0},{"p":"E","s":"OPD_1.8V","v":-0.17,"y":5.9},{"p":"E","s":"OPD_1.8V","v":-0.15,"y":5.6},{"p":"E","s":"OPD_1.8V","v":-0.1,"y":4.8},{"p":"E","s":"OPD_1.8V","v":-0.05,"y":4.0},{"p":"E","s":"OPD_1.8V","v":0,"y":3.2},{"p":"E","s":"OPD_1.8V","v":0.05,"y":4.5},{"p":"E","s":"OPD_1.8V","v":0.1,"y":5.6},{"p":"E","s":"OPD_1.8V","v":0.15,"y":6.3},{"p":"E","s":"OPD_1.8V","v":0.2,"y":6.9},{"p":"E","s":"OPD_1.8V","v":0.3,"y":8.0},{"p":"E","s":"OPD_1.8V","v":0.4,"y":9.1},{"p":"E","s":"OPD_1.8V","v":0.5,"y":10.1},{"p":"E","s":"OPD_1.8V","v":0.6,"y":11.0},{"p":"E","s":"OPD_1.8V","v":0.7,"y":11.9},{"p":"E","s":"OPD_1.8V","v":0.8,"y":12.8},{"p":"E","s":"OPD_1.8V","v":0.9,"y":13.6},{"p":"E","s":"OPD_1.8V","v":1.0,"y":14.4},{"p":"E","s":"OPD_1.8V","v":1.1,"y":15.1},{"p":"E","s":"OPD_1.8V","v":1.2,"y":15.8},{"p":"E","s":"OPD_1.8V","v":1.3,"y":16.5},{"p":"E","s":"OPD_1.8V","v":1.4,"y":17.1},{"p":"E","s":"OPD_1.8V","v":1.5,"y":17.7},

      {"p":"F","s":"OPD_0.0V","v":-1.5,"y":0.002},{"p":"F","s":"OPD_0.0V","v":-1.45,"y":0.005},{"p":"F","s":"OPD_0.0V","v":-1.4,"y":0.004},{"p":"F","s":"OPD_0.0V","v":-1.35,"y":0.004},{"p":"F","s":"OPD_0.0V","v":-1.3,"y":0.003},{"p":"F","s":"OPD_0.0V","v":-1.2,"y":0.004},{"p":"F","s":"OPD_0.0V","v":-1.1,"y":0.002},{"p":"F","s":"OPD_0.0V","v":-1.0,"y":0.003},{"p":"F","s":"OPD_0.0V","v":-0.9,"y":0.002},{"p":"F","s":"OPD_0.0V","v":-0.8,"y":0.003},{"p":"F","s":"OPD_0.0V","v":-0.7,"y":0.002},{"p":"F","s":"OPD_0.0V","v":-0.6,"y":0.002},{"p":"F","s":"OPD_0.0V","v":-0.5,"y":0.002},{"p":"F","s":"OPD_0.0V","v":-0.4,"y":0.001},{"p":"F","s":"OPD_0.0V","v":-0.3,"y":0.002},{"p":"F","s":"OPD_0.0V","v":-0.2,"y":0.002},{"p":"F","s":"OPD_0.0V","v":-0.1,"y":0.002},{"p":"F","s":"OPD_0.0V","v":0,"y":0.002},{"p":"F","s":"OPD_0.0V","v":0.1,"y":0.002},{"p":"F","s":"OPD_0.0V","v":0.2,"y":0.002},{"p":"F","s":"OPD_0.0V","v":0.3,"y":0.003},{"p":"F","s":"OPD_0.0V","v":0.4,"y":0.002},{"p":"F","s":"OPD_0.0V","v":0.5,"y":0.004},{"p":"F","s":"OPD_0.0V","v":0.6,"y":0.003},{"p":"F","s":"OPD_0.0V","v":0.7,"y":0.004},{"p":"F","s":"OPD_0.0V","v":0.8,"y":0.003},{"p":"F","s":"OPD_0.0V","v":0.9,"y":0.004},{"p":"F","s":"OPD_0.0V","v":0.95,"y":0.007},{"p":"F","s":"OPD_0.0V","v":1.0,"y":0.004},{"p":"F","s":"OPD_0.0V","v":1.1,"y":0.005},{"p":"F","s":"OPD_0.0V","v":1.2,"y":0.004},{"p":"F","s":"OPD_0.0V","v":1.3,"y":0.004},{"p":"F","s":"OPD_0.0V","v":1.35,"y":0.007},{"p":"F","s":"OPD_0.0V","v":1.4,"y":0.003},{"p":"F","s":"OPD_0.0V","v":1.45,"y":0.005},{"p":"F","s":"OPD_0.0V","v":1.5,"y":0.001},
      {"p":"F","s":"OPD_0.6V","v":-1.5,"y":0.037},{"p":"F","s":"OPD_0.6V","v":-1.48,"y":0.04},{"p":"F","s":"OPD_0.6V","v":-1.45,"y":0.031},{"p":"F","s":"OPD_0.6V","v":-1.4,"y":0.029},{"p":"F","s":"OPD_0.6V","v":-1.35,"y":0.029},{"p":"F","s":"OPD_0.6V","v":-1.3,"y":0.027},{"p":"F","s":"OPD_0.6V","v":-1.25,"y":0.028},{"p":"F","s":"OPD_0.6V","v":-1.2,"y":0.031},{"p":"F","s":"OPD_0.6V","v":-1.15,"y":0.029},{"p":"F","s":"OPD_0.6V","v":-1.1,"y":0.024},{"p":"F","s":"OPD_0.6V","v":-1.05,"y":0.026},{"p":"F","s":"OPD_0.6V","v":-1.0,"y":0.022},{"p":"F","s":"OPD_0.6V","v":-0.95,"y":0.023},{"p":"F","s":"OPD_0.6V","v":-0.9,"y":0.02},{"p":"F","s":"OPD_0.6V","v":-0.85,"y":0.018},{"p":"F","s":"OPD_0.6V","v":-0.8,"y":0.019},{"p":"F","s":"OPD_0.6V","v":-0.75,"y":0.016},{"p":"F","s":"OPD_0.6V","v":-0.7,"y":0.017},{"p":"F","s":"OPD_0.6V","v":-0.65,"y":0.013},{"p":"F","s":"OPD_0.6V","v":-0.6,"y":0.014},{"p":"F","s":"OPD_0.6V","v":-0.55,"y":0.011},{"p":"F","s":"OPD_0.6V","v":-0.5,"y":0.012},{"p":"F","s":"OPD_0.6V","v":-0.45,"y":0.009},{"p":"F","s":"OPD_0.6V","v":-0.4,"y":0.008},{"p":"F","s":"OPD_0.6V","v":-0.35,"y":0.009},{"p":"F","s":"OPD_0.6V","v":-0.3,"y":0.007},{"p":"F","s":"OPD_0.6V","v":-0.25,"y":0.005},{"p":"F","s":"OPD_0.6V","v":-0.2,"y":0.004},{"p":"F","s":"OPD_0.6V","v":-0.15,"y":0.004},{"p":"F","s":"OPD_0.6V","v":-0.1,"y":0.003},{"p":"F","s":"OPD_0.6V","v":-0.05,"y":0.002},{"p":"F","s":"OPD_0.6V","v":0,"y":0.002},{"p":"F","s":"OPD_0.6V","v":0.05,"y":0.002},{"p":"F","s":"OPD_0.6V","v":0.1,"y":0.003},{"p":"F","s":"OPD_0.6V","v":0.15,"y":0.004},{"p":"F","s":"OPD_0.6V","v":0.2,"y":0.004},{"p":"F","s":"OPD_0.6V","v":0.25,"y":0.005},{"p":"F","s":"OPD_0.6V","v":0.3,"y":0.007},{"p":"F","s":"OPD_0.6V","v":0.35,"y":0.006},{"p":"F","s":"OPD_0.6V","v":0.4,"y":0.009},{"p":"F","s":"OPD_0.6V","v":0.45,"y":0.01},{"p":"F","s":"OPD_0.6V","v":0.5,"y":0.011},{"p":"F","s":"OPD_0.6V","v":0.55,"y":0.012},{"p":"F","s":"OPD_0.6V","v":0.6,"y":0.016},{"p":"F","s":"OPD_0.6V","v":0.65,"y":0.014},{"p":"F","s":"OPD_0.6V","v":0.7,"y":0.018},{"p":"F","s":"OPD_0.6V","v":0.75,"y":0.02},{"p":"F","s":"OPD_0.6V","v":0.8,"y":0.022},{"p":"F","s":"OPD_0.6V","v":0.85,"y":0.023},{"p":"F","s":"OPD_0.6V","v":0.9,"y":0.027},{"p":"F","s":"OPD_0.6V","v":0.95,"y":0.029},{"p":"F","s":"OPD_0.6V","v":1.0,"y":0.03},{"p":"F","s":"OPD_0.6V","v":1.05,"y":0.033},{"p":"F","s":"OPD_0.6V","v":1.1,"y":0.036},{"p":"F","s":"OPD_0.6V","v":1.15,"y":0.038},{"p":"F","s":"OPD_0.6V","v":1.2,"y":0.042},{"p":"F","s":"OPD_0.6V","v":1.25,"y":0.045},{"p":"F","s":"OPD_0.6V","v":1.3,"y":0.049},{"p":"F","s":"OPD_0.6V","v":1.35,"y":0.056},{"p":"F","s":"OPD_0.6V","v":1.4,"y":0.067},{"p":"F","s":"OPD_0.6V","v":1.42,"y":0.062},{"p":"F","s":"OPD_0.6V","v":1.45,"y":0.065},{"p":"F","s":"OPD_0.6V","v":1.5,"y":0.058},
      {"p":"F","s":"OPD_1.2V","v":-1.5,"y":0.118},{"p":"F","s":"OPD_1.2V","v":-1.47,"y":0.115},{"p":"F","s":"OPD_1.2V","v":-1.44,"y":0.1},{"p":"F","s":"OPD_1.2V","v":-1.4,"y":0.115},{"p":"F","s":"OPD_1.2V","v":-1.35,"y":0.113},{"p":"F","s":"OPD_1.2V","v":-1.3,"y":0.125},{"p":"F","s":"OPD_1.2V","v":-1.25,"y":0.111},{"p":"F","s":"OPD_1.2V","v":-1.2,"y":0.109},{"p":"F","s":"OPD_1.2V","v":-1.15,"y":0.1},{"p":"F","s":"OPD_1.2V","v":-1.1,"y":0.099},{"p":"F","s":"OPD_1.2V","v":-1.05,"y":0.098},{"p":"F","s":"OPD_1.2V","v":-1.0,"y":0.087},{"p":"F","s":"OPD_1.2V","v":-0.95,"y":0.078},{"p":"F","s":"OPD_1.2V","v":-0.9,"y":0.071},{"p":"F","s":"OPD_1.2V","v":-0.85,"y":0.069},{"p":"F","s":"OPD_1.2V","v":-0.8,"y":0.065},{"p":"F","s":"OPD_1.2V","v":-0.75,"y":0.06},{"p":"F","s":"OPD_1.2V","v":-0.7,"y":0.056},{"p":"F","s":"OPD_1.2V","v":-0.65,"y":0.051},{"p":"F","s":"OPD_1.2V","v":-0.6,"y":0.047},{"p":"F","s":"OPD_1.2V","v":-0.55,"y":0.042},{"p":"F","s":"OPD_1.2V","v":-0.5,"y":0.038},{"p":"F","s":"OPD_1.2V","v":-0.45,"y":0.033},{"p":"F","s":"OPD_1.2V","v":-0.4,"y":0.029},{"p":"F","s":"OPD_1.2V","v":-0.35,"y":0.024},{"p":"F","s":"OPD_1.2V","v":-0.3,"y":0.02},{"p":"F","s":"OPD_1.2V","v":-0.25,"y":0.016},{"p":"F","s":"OPD_1.2V","v":-0.2,"y":0.011},{"p":"F","s":"OPD_1.2V","v":-0.15,"y":0.008},{"p":"F","s":"OPD_1.2V","v":-0.1,"y":0.005},{"p":"F","s":"OPD_1.2V","v":-0.05,"y":0.004},{"p":"F","s":"OPD_1.2V","v":0,"y":0.004},{"p":"F","s":"OPD_1.2V","v":0.05,"y":0.005},{"p":"F","s":"OPD_1.2V","v":0.1,"y":0.009},{"p":"F","s":"OPD_1.2V","v":0.15,"y":0.011},{"p":"F","s":"OPD_1.2V","v":0.2,"y":0.014},{"p":"F","s":"OPD_1.2V","v":0.25,"y":0.018},{"p":"F","s":"OPD_1.2V","v":0.3,"y":0.022},{"p":"F","s":"OPD_1.2V","v":0.35,"y":0.027},{"p":"F","s":"OPD_1.2V","v":0.4,"y":0.031},{"p":"F","s":"OPD_1.2V","v":0.45,"y":0.033},{"p":"F","s":"OPD_1.2V","v":0.5,"y":0.036},{"p":"F","s":"OPD_1.2V","v":0.55,"y":0.042},{"p":"F","s":"OPD_1.2V","v":0.6,"y":0.047},{"p":"F","s":"OPD_1.2V","v":0.65,"y":0.051},{"p":"F","s":"OPD_1.2V","v":0.7,"y":0.056},{"p":"F","s":"OPD_1.2V","v":0.75,"y":0.062},{"p":"F","s":"OPD_1.2V","v":0.8,"y":0.067},{"p":"F","s":"OPD_1.2V","v":0.85,"y":0.071},{"p":"F","s":"OPD_1.2V","v":0.9,"y":0.078},{"p":"F","s":"OPD_1.2V","v":0.95,"y":0.085},{"p":"F","s":"OPD_1.2V","v":1.0,"y":0.089},{"p":"F","s":"OPD_1.2V","v":1.05,"y":0.096},{"p":"F","s":"OPD_1.2V","v":1.1,"y":0.107},{"p":"F","s":"OPD_1.2V","v":1.15,"y":0.111},{"p":"F","s":"OPD_1.2V","v":1.2,"y":0.113},{"p":"F","s":"OPD_1.2V","v":1.25,"y":0.122},{"p":"F","s":"OPD_1.2V","v":1.3,"y":0.127},{"p":"F","s":"OPD_1.2V","v":1.33,"y":0.147},{"p":"F","s":"OPD_1.2V","v":1.37,"y":0.145},{"p":"F","s":"OPD_1.2V","v":1.4,"y":0.151},{"p":"F","s":"OPD_1.2V","v":1.45,"y":0.16},{"p":"F","s":"OPD_1.2V","v":1.5,"y":0.178},
      {"p":"F","s":"OPD_1.8V","v":-1.5,"y":0.002},{"p":"F","s":"OPD_1.8V","v":-1.45,"y":0.007},{"p":"F","s":"OPD_1.8V","v":-1.4,"y":0.011},{"p":"F","s":"OPD_1.8V","v":-1.35,"y":0.013},{"p":"F","s":"OPD_1.8V","v":-1.3,"y":0.02},{"p":"F","s":"OPD_1.8V","v":-1.25,"y":0.018},{"p":"F","s":"OPD_1.8V","v":-1.2,"y":0.016},{"p":"F","s":"OPD_1.8V","v":-1.15,"y":0.015},{"p":"F","s":"OPD_1.8V","v":-1.1,"y":0.013},{"p":"F","s":"OPD_1.8V","v":-1.0,"y":0.012},{"p":"F","s":"OPD_1.8V","v":-0.9,"y":0.011},{"p":"F","s":"OPD_1.8V","v":-0.8,"y":0.009},{"p":"F","s":"OPD_1.8V","v":-0.7,"y":0.009},{"p":"F","s":"OPD_1.8V","v":-0.6,"y":0.007},{"p":"F","s":"OPD_1.8V","v":-0.5,"y":0.006},{"p":"F","s":"OPD_1.8V","v":-0.4,"y":0.004},{"p":"F","s":"OPD_1.8V","v":-0.3,"y":0.004},{"p":"F","s":"OPD_1.8V","v":-0.2,"y":0.003},{"p":"F","s":"OPD_1.8V","v":-0.1,"y":0.003},{"p":"F","s":"OPD_1.8V","v":0,"y":0.002},{"p":"F","s":"OPD_1.8V","v":0.1,"y":0.004},{"p":"F","s":"OPD_1.8V","v":0.2,"y":0.005},{"p":"F","s":"OPD_1.8V","v":0.3,"y":0.008},{"p":"F","s":"OPD_1.8V","v":0.4,"y":0.01},{"p":"F","s":"OPD_1.8V","v":0.5,"y":0.011},{"p":"F","s":"OPD_1.8V","v":0.6,"y":0.012},{"p":"F","s":"OPD_1.8V","v":0.7,"y":0.016},{"p":"F","s":"OPD_1.8V","v":0.75,"y":0.014},{"p":"F","s":"OPD_1.8V","v":0.8,"y":0.016},{"p":"F","s":"OPD_1.8V","v":0.9,"y":0.015},{"p":"F","s":"OPD_1.8V","v":1.0,"y":0.016},{"p":"F","s":"OPD_1.8V","v":1.05,"y":0.018},{"p":"F","s":"OPD_1.8V","v":1.1,"y":0.019},{"p":"F","s":"OPD_1.8V","v":1.15,"y":0.016},{"p":"F","s":"OPD_1.8V","v":1.2,"y":0.013},{"p":"F","s":"OPD_1.8V","v":1.25,"y":0.011},{"p":"F","s":"OPD_1.8V","v":1.3,"y":0.009},{"p":"F","s":"OPD_1.8V","v":1.35,"y":0.004},{"p":"F","s":"OPD_1.8V","v":1.4,"y":0.001},{"p":"F","s":"OPD_1.8V","v":1.45,"y":0.008},{"p":"F","s":"OPD_1.8V","v":1.48,"y":0.004},{"p":"F","s":"OPD_1.8V","v":1.5,"y":0.016},

      {"p":"G","s":"OPD_0.0V","v":-1.5,"y":5},{"p":"G","s":"OPD_0.0V","v":-1.48,"y":35},{"p":"G","s":"OPD_0.0V","v":-1.45,"y":6},{"p":"G","s":"OPD_0.0V","v":-1.42,"y":12},{"p":"G","s":"OPD_0.0V","v":-1.4,"y":18},{"p":"G","s":"OPD_0.0V","v":-1.35,"y":10},{"p":"G","s":"OPD_0.0V","v":-1.3,"y":13},{"p":"G","s":"OPD_0.0V","v":-1.25,"y":8},{"p":"G","s":"OPD_0.0V","v":-1.2,"y":10},{"p":"G","s":"OPD_0.0V","v":-1.15,"y":60},{"p":"G","s":"OPD_0.0V","v":-1.1,"y":10},{"p":"G","s":"OPD_0.0V","v":-1.05,"y":15},{"p":"G","s":"OPD_0.0V","v":-1.0,"y":9},{"p":"G","s":"OPD_0.0V","v":-0.95,"y":8},{"p":"G","s":"OPD_0.0V","v":-0.9,"y":20},{"p":"G","s":"OPD_0.0V","v":-0.85,"y":12},{"p":"G","s":"OPD_0.0V","v":-0.8,"y":50},{"p":"G","s":"OPD_0.0V","v":-0.75,"y":45},{"p":"G","s":"OPD_0.0V","v":-0.7,"y":12},{"p":"G","s":"OPD_0.0V","v":-0.65,"y":10},{"p":"G","s":"OPD_0.0V","v":-0.6,"y":30},{"p":"G","s":"OPD_0.0V","v":-0.55,"y":15},{"p":"G","s":"OPD_0.0V","v":-0.5,"y":40},{"p":"G","s":"OPD_0.0V","v":-0.45,"y":35},{"p":"G","s":"OPD_0.0V","v":-0.4,"y":12},{"p":"G","s":"OPD_0.0V","v":-0.35,"y":40},{"p":"G","s":"OPD_0.0V","v":-0.3,"y":15},{"p":"G","s":"OPD_0.0V","v":-0.25,"y":8},{"p":"G","s":"OPD_0.0V","v":-0.2,"y":5},{"p":"G","s":"OPD_0.0V","v":-0.15,"y":4},{"p":"G","s":"OPD_0.0V","v":-0.1,"y":700},{"p":"G","s":"OPD_0.0V","v":-0.07,"y":4},{"p":"G","s":"OPD_0.0V","v":-0.03,"y":3},{"p":"G","s":"OPD_0.0V","v":0.0,"y":1.8},{"p":"G","s":"OPD_0.0V","v":0.03,"y":3},{"p":"G","s":"OPD_0.0V","v":0.06,"y":8},{"p":"G","s":"OPD_0.0V","v":0.1,"y":6},{"p":"G","s":"OPD_0.0V","v":0.13,"y":25},{"p":"G","s":"OPD_0.0V","v":0.16,"y":6},{"p":"G","s":"OPD_0.0V","v":0.2,"y":30},{"p":"G","s":"OPD_0.0V","v":0.23,"y":8},{"p":"G","s":"OPD_0.0V","v":0.26,"y":30},{"p":"G","s":"OPD_0.0V","v":0.3,"y":5},{"p":"G","s":"OPD_0.0V","v":0.33,"y":8},{"p":"G","s":"OPD_0.0V","v":0.36,"y":15},{"p":"G","s":"OPD_0.0V","v":0.4,"y":8},{"p":"G","s":"OPD_0.0V","v":0.45,"y":700},{"p":"G","s":"OPD_0.0V","v":0.5,"y":20},{"p":"G","s":"OPD_0.0V","v":0.55,"y":6},{"p":"G","s":"OPD_0.0V","v":0.6,"y":8},{"p":"G","s":"OPD_0.0V","v":0.65,"y":40},{"p":"G","s":"OPD_0.0V","v":0.7,"y":6},{"p":"G","s":"OPD_0.0V","v":0.75,"y":10},{"p":"G","s":"OPD_0.0V","v":0.8,"y":5},{"p":"G","s":"OPD_0.0V","v":0.85,"y":7},{"p":"G","s":"OPD_0.0V","v":0.9,"y":12},{"p":"G","s":"OPD_0.0V","v":0.95,"y":6},{"p":"G","s":"OPD_0.0V","v":1.0,"y":8},{"p":"G","s":"OPD_0.0V","v":1.05,"y":5},{"p":"G","s":"OPD_0.0V","v":1.1,"y":10},{"p":"G","s":"OPD_0.0V","v":1.15,"y":6},{"p":"G","s":"OPD_0.0V","v":1.2,"y":15},{"p":"G","s":"OPD_0.0V","v":1.25,"y":6},{"p":"G","s":"OPD_0.0V","v":1.3,"y":20},{"p":"G","s":"OPD_0.0V","v":1.35,"y":8},{"p":"G","s":"OPD_0.0V","v":1.4,"y":4},{"p":"G","s":"OPD_0.0V","v":1.45,"y":25},{"p":"G","s":"OPD_0.0V","v":1.48,"y":700},{"p":"G","s":"OPD_0.0V","v":1.5,"y":5},
      {"p":"G","s":"OPD_0.6V","v":-1.5,"y":0.7},{"p":"G","s":"OPD_0.6V","v":-1.48,"y":3},{"p":"G","s":"OPD_0.6V","v":-1.45,"y":2.5},{"p":"G","s":"OPD_0.6V","v":-1.4,"y":2.6},{"p":"G","s":"OPD_0.6V","v":-1.3,"y":2.7},{"p":"G","s":"OPD_0.6V","v":-1.2,"y":2.8},{"p":"G","s":"OPD_0.6V","v":-1.1,"y":3},{"p":"G","s":"OPD_0.6V","v":-1.0,"y":3},{"p":"G","s":"OPD_0.6V","v":-0.9,"y":3.3},{"p":"G","s":"OPD_0.6V","v":-0.8,"y":3.6},{"p":"G","s":"OPD_0.6V","v":-0.7,"y":4},{"p":"G","s":"OPD_0.6V","v":-0.6,"y":4.5},{"p":"G","s":"OPD_0.6V","v":-0.5,"y":5},{"p":"G","s":"OPD_0.6V","v":-0.4,"y":5},{"p":"G","s":"OPD_0.6V","v":-0.3,"y":5.5},{"p":"G","s":"OPD_0.6V","v":-0.2,"y":5.5},{"p":"G","s":"OPD_0.6V","v":-0.15,"y":8},{"p":"G","s":"OPD_0.6V","v":-0.1,"y":30},{"p":"G","s":"OPD_0.6V","v":-0.07,"y":10},{"p":"G","s":"OPD_0.6V","v":-0.03,"y":12},{"p":"G","s":"OPD_0.6V","v":0.0,"y":8},{"p":"G","s":"OPD_0.6V","v":0.05,"y":6},{"p":"G","s":"OPD_0.6V","v":0.1,"y":5},{"p":"G","s":"OPD_0.6V","v":0.2,"y":4.5},{"p":"G","s":"OPD_0.6V","v":0.3,"y":4},{"p":"G","s":"OPD_0.6V","v":0.4,"y":3.5},{"p":"G","s":"OPD_0.6V","v":0.5,"y":3},{"p":"G","s":"OPD_0.6V","v":0.6,"y":3},{"p":"G","s":"OPD_0.6V","v":0.7,"y":2.8},{"p":"G","s":"OPD_0.6V","v":0.8,"y":2.5},{"p":"G","s":"OPD_0.6V","v":0.9,"y":2.4},{"p":"G","s":"OPD_0.6V","v":1.0,"y":2.2},{"p":"G","s":"OPD_0.6V","v":1.1,"y":2},{"p":"G","s":"OPD_0.6V","v":1.2,"y":2},{"p":"G","s":"OPD_0.6V","v":1.3,"y":1.8},{"p":"G","s":"OPD_0.6V","v":1.4,"y":1.7},{"p":"G","s":"OPD_0.6V","v":1.5,"y":1.5},
      {"p":"G","s":"OPD_1.2V","v":-1.5,"y":1.3},{"p":"G","s":"OPD_1.2V","v":-1.48,"y":0.6},{"p":"G","s":"OPD_1.2V","v":-1.45,"y":0.75},{"p":"G","s":"OPD_1.2V","v":-1.4,"y":0.8},{"p":"G","s":"OPD_1.2V","v":-1.3,"y":0.7},{"p":"G","s":"OPD_1.2V","v":-1.2,"y":0.75},{"p":"G","s":"OPD_1.2V","v":-1.1,"y":0.8},{"p":"G","s":"OPD_1.2V","v":-1.0,"y":0.85},{"p":"G","s":"OPD_1.2V","v":-0.9,"y":0.95},{"p":"G","s":"OPD_1.2V","v":-0.8,"y":1.05},{"p":"G","s":"OPD_1.2V","v":-0.7,"y":1.2},{"p":"G","s":"OPD_1.2V","v":-0.6,"y":1.4},{"p":"G","s":"OPD_1.2V","v":-0.5,"y":1.6},{"p":"G","s":"OPD_1.2V","v":-0.4,"y":1.9},{"p":"G","s":"OPD_1.2V","v":-0.3,"y":2.3},{"p":"G","s":"OPD_1.2V","v":-0.2,"y":3},{"p":"G","s":"OPD_1.2V","v":-0.15,"y":4},{"p":"G","s":"OPD_1.2V","v":-0.1,"y":5.5},{"p":"G","s":"OPD_1.2V","v":-0.05,"y":8},{"p":"G","s":"OPD_1.2V","v":0.0,"y":12},{"p":"G","s":"OPD_1.2V","v":0.05,"y":7},{"p":"G","s":"OPD_1.2V","v":0.1,"y":4.5},{"p":"G","s":"OPD_1.2V","v":0.2,"y":3},{"p":"G","s":"OPD_1.2V","v":0.3,"y":2.3},{"p":"G","s":"OPD_1.2V","v":0.4,"y":1.9},{"p":"G","s":"OPD_1.2V","v":0.5,"y":1.6},{"p":"G","s":"OPD_1.2V","v":0.6,"y":1.4},{"p":"G","s":"OPD_1.2V","v":0.7,"y":1.2},{"p":"G","s":"OPD_1.2V","v":0.8,"y":1.05},{"p":"G","s":"OPD_1.2V","v":0.9,"y":0.95},{"p":"G","s":"OPD_1.2V","v":1.0,"y":0.85},{"p":"G","s":"OPD_1.2V","v":1.1,"y":0.8},{"p":"G","s":"OPD_1.2V","v":1.2,"y":0.75},{"p":"G","s":"OPD_1.2V","v":1.3,"y":0.7},{"p":"G","s":"OPD_1.2V","v":1.4,"y":0.65},{"p":"G","s":"OPD_1.2V","v":1.5,"y":0.55},
      {"p":"G","s":"OPD_1.8V","v":-1.5,"y":8},{"p":"G","s":"OPD_1.8V","v":-1.48,"y":25},{"p":"G","s":"OPD_1.8V","v":-1.45,"y":8},{"p":"G","s":"OPD_1.8V","v":-1.4,"y":6},{"p":"G","s":"OPD_1.8V","v":-1.35,"y":5.5},{"p":"G","s":"OPD_1.8V","v":-1.3,"y":5},{"p":"G","s":"OPD_1.8V","v":-1.2,"y":5.2},{"p":"G","s":"OPD_1.8V","v":-1.1,"y":5.5},{"p":"G","s":"OPD_1.8V","v":-1.0,"y":5.5},{"p":"G","s":"OPD_1.8V","v":-0.9,"y":6},{"p":"G","s":"OPD_1.8V","v":-0.8,"y":7},{"p":"G","s":"OPD_1.8V","v":-0.7,"y":7.5},{"p":"G","s":"OPD_1.8V","v":-0.6,"y":8},{"p":"G","s":"OPD_1.8V","v":-0.5,"y":9},{"p":"G","s":"OPD_1.8V","v":-0.4,"y":10},{"p":"G","s":"OPD_1.8V","v":-0.3,"y":11},{"p":"G","s":"OPD_1.8V","v":-0.2,"y":15},{"p":"G","s":"OPD_1.8V","v":-0.15,"y":25},{"p":"G","s":"OPD_1.8V","v":-0.12,"y":10},{"p":"G","s":"OPD_1.8V","v":-0.1,"y":5},{"p":"G","s":"OPD_1.8V","v":-0.07,"y":8},{"p":"G","s":"OPD_1.8V","v":-0.03,"y":15},{"p":"G","s":"OPD_1.8V","v":0.0,"y":13},{"p":"G","s":"OPD_1.8V","v":0.05,"y":10},{"p":"G","s":"OPD_1.8V","v":0.1,"y":8},{"p":"G","s":"OPD_1.8V","v":0.2,"y":7},{"p":"G","s":"OPD_1.8V","v":0.3,"y":6},{"p":"G","s":"OPD_1.8V","v":0.4,"y":6},{"p":"G","s":"OPD_1.8V","v":0.5,"y":5.5},{"p":"G","s":"OPD_1.8V","v":0.6,"y":5},{"p":"G","s":"OPD_1.8V","v":0.7,"y":5},{"p":"G","s":"OPD_1.8V","v":0.8,"y":4.5},{"p":"G","s":"OPD_1.8V","v":0.9,"y":5},{"p":"G","s":"OPD_1.8V","v":1.0,"y":5},{"p":"G","s":"OPD_1.8V","v":1.1,"y":5.5},{"p":"G","s":"OPD_1.8V","v":1.2,"y":6.5},{"p":"G","s":"OPD_1.8V","v":1.25,"y":7},{"p":"G","s":"OPD_1.8V","v":1.3,"y":9},{"p":"G","s":"OPD_1.8V","v":1.35,"y":130},{"p":"G","s":"OPD_1.8V","v":1.4,"y":10},{"p":"G","s":"OPD_1.8V","v":1.45,"y":20},{"p":"G","s":"OPD_1.8V","v":1.5,"y":5},

      {"p":"H","s":"OPD_0.0V","v":-1.5,"y":5e7},{"p":"H","s":"OPD_0.0V","v":-1.48,"y":7.1e6},{"p":"H","s":"OPD_0.0V","v":-1.45,"y":4.2e7},{"p":"H","s":"OPD_0.0V","v":-1.42,"y":2.1e7},{"p":"H","s":"OPD_0.0V","v":-1.4,"y":1.4e7},{"p":"H","s":"OPD_0.0V","v":-1.35,"y":2.5e7},{"p":"H","s":"OPD_0.0V","v":-1.3,"y":1.9e7},{"p":"H","s":"OPD_0.0V","v":-1.25,"y":3.1e7},{"p":"H","s":"OPD_0.0V","v":-1.2,"y":2.5e7},{"p":"H","s":"OPD_0.0V","v":-1.15,"y":4.2e6},{"p":"H","s":"OPD_0.0V","v":-1.1,"y":2.5e7},{"p":"H","s":"OPD_0.0V","v":-1.05,"y":1.7e7},{"p":"H","s":"OPD_0.0V","v":-1.0,"y":2.8e7},{"p":"H","s":"OPD_0.0V","v":-0.95,"y":3.1e7},{"p":"H","s":"OPD_0.0V","v":-0.9,"y":1.25e7},{"p":"H","s":"OPD_0.0V","v":-0.85,"y":2.1e7},{"p":"H","s":"OPD_0.0V","v":-0.8,"y":5e6},{"p":"H","s":"OPD_0.0V","v":-0.75,"y":5.6e6},{"p":"H","s":"OPD_0.0V","v":-0.7,"y":2.1e7},{"p":"H","s":"OPD_0.0V","v":-0.65,"y":2.5e7},{"p":"H","s":"OPD_0.0V","v":-0.6,"y":8.3e6},{"p":"H","s":"OPD_0.0V","v":-0.55,"y":1.7e7},{"p":"H","s":"OPD_0.0V","v":-0.5,"y":6.3e6},{"p":"H","s":"OPD_0.0V","v":-0.45,"y":7.1e6},{"p":"H","s":"OPD_0.0V","v":-0.4,"y":2.1e7},{"p":"H","s":"OPD_0.0V","v":-0.35,"y":6.3e6},{"p":"H","s":"OPD_0.0V","v":-0.3,"y":1.7e7},{"p":"H","s":"OPD_0.0V","v":-0.25,"y":3.1e7},{"p":"H","s":"OPD_0.0V","v":-0.2,"y":5e7},{"p":"H","s":"OPD_0.0V","v":-0.15,"y":6.3e7},{"p":"H","s":"OPD_0.0V","v":-0.1,"y":3.6e5},{"p":"H","s":"OPD_0.0V","v":-0.07,"y":6.3e7},{"p":"H","s":"OPD_0.0V","v":-0.03,"y":8.3e7},{"p":"H","s":"OPD_0.0V","v":0.0,"y":1.4e8},{"p":"H","s":"OPD_0.0V","v":0.03,"y":8.3e7},{"p":"H","s":"OPD_0.0V","v":0.06,"y":3.1e7},{"p":"H","s":"OPD_0.0V","v":0.1,"y":4.2e7},{"p":"H","s":"OPD_0.0V","v":0.13,"y":1e7},{"p":"H","s":"OPD_0.0V","v":0.16,"y":4.2e7},{"p":"H","s":"OPD_0.0V","v":0.2,"y":8.3e6},{"p":"H","s":"OPD_0.0V","v":0.23,"y":3.1e7},{"p":"H","s":"OPD_0.0V","v":0.26,"y":8.3e6},{"p":"H","s":"OPD_0.0V","v":0.3,"y":5e7},{"p":"H","s":"OPD_0.0V","v":0.33,"y":3.1e7},{"p":"H","s":"OPD_0.0V","v":0.36,"y":1.7e7},{"p":"H","s":"OPD_0.0V","v":0.4,"y":3.1e7},{"p":"H","s":"OPD_0.0V","v":0.45,"y":3.6e5},{"p":"H","s":"OPD_0.0V","v":0.5,"y":1.25e7},{"p":"H","s":"OPD_0.0V","v":0.55,"y":4.2e7},{"p":"H","s":"OPD_0.0V","v":0.6,"y":3.1e7},{"p":"H","s":"OPD_0.0V","v":0.65,"y":6.3e6},{"p":"H","s":"OPD_0.0V","v":0.7,"y":4.2e7},{"p":"H","s":"OPD_0.0V","v":0.75,"y":2.5e7},{"p":"H","s":"OPD_0.0V","v":0.8,"y":5e7},{"p":"H","s":"OPD_0.0V","v":0.85,"y":3.6e7},{"p":"H","s":"OPD_0.0V","v":0.9,"y":2.1e7},{"p":"H","s":"OPD_0.0V","v":0.95,"y":4.2e7},{"p":"H","s":"OPD_0.0V","v":1.0,"y":3.1e7},{"p":"H","s":"OPD_0.0V","v":1.05,"y":5e7},{"p":"H","s":"OPD_0.0V","v":1.1,"y":2.5e7},{"p":"H","s":"OPD_0.0V","v":1.15,"y":4.2e7},{"p":"H","s":"OPD_0.0V","v":1.2,"y":1.7e7},{"p":"H","s":"OPD_0.0V","v":1.25,"y":4.2e7},{"p":"H","s":"OPD_0.0V","v":1.3,"y":1.25e7},{"p":"H","s":"OPD_0.0V","v":1.35,"y":3.1e7},{"p":"H","s":"OPD_0.0V","v":1.4,"y":6.3e7},{"p":"H","s":"OPD_0.0V","v":1.45,"y":1e7},{"p":"H","s":"OPD_0.0V","v":1.48,"y":3.6e5},{"p":"H","s":"OPD_0.0V","v":1.5,"y":5e7},
      {"p":"H","s":"OPD_0.6V","v":-1.5,"y":3.6e8},{"p":"H","s":"OPD_0.6V","v":-1.48,"y":8.3e7},{"p":"H","s":"OPD_0.6V","v":-1.45,"y":1e8},{"p":"H","s":"OPD_0.6V","v":-1.4,"y":9.6e7},{"p":"H","s":"OPD_0.6V","v":-1.3,"y":9.3e7},{"p":"H","s":"OPD_0.6V","v":-1.2,"y":8.9e7},{"p":"H","s":"OPD_0.6V","v":-1.1,"y":8.3e7},{"p":"H","s":"OPD_0.6V","v":-1.0,"y":8.3e7},{"p":"H","s":"OPD_0.6V","v":-0.9,"y":7.6e7},{"p":"H","s":"OPD_0.6V","v":-0.8,"y":6.9e7},{"p":"H","s":"OPD_0.6V","v":-0.7,"y":6.3e7},{"p":"H","s":"OPD_0.6V","v":-0.6,"y":5.6e7},{"p":"H","s":"OPD_0.6V","v":-0.5,"y":5e7},{"p":"H","s":"OPD_0.6V","v":-0.4,"y":5e7},{"p":"H","s":"OPD_0.6V","v":-0.3,"y":4.5e7},{"p":"H","s":"OPD_0.6V","v":-0.2,"y":4.5e7},{"p":"H","s":"OPD_0.6V","v":-0.15,"y":3.1e7},{"p":"H","s":"OPD_0.6V","v":-0.1,"y":8.3e6},{"p":"H","s":"OPD_0.6V","v":-0.07,"y":2.5e7},{"p":"H","s":"OPD_0.6V","v":-0.03,"y":2.1e7},{"p":"H","s":"OPD_0.6V","v":0.0,"y":3.1e7},{"p":"H","s":"OPD_0.6V","v":0.05,"y":4.2e7},{"p":"H","s":"OPD_0.6V","v":0.1,"y":5e7},{"p":"H","s":"OPD_0.6V","v":0.2,"y":5.6e7},{"p":"H","s":"OPD_0.6V","v":0.3,"y":6.3e7},{"p":"H","s":"OPD_0.6V","v":0.4,"y":7.1e7},{"p":"H","s":"OPD_0.6V","v":0.5,"y":8.3e7},{"p":"H","s":"OPD_0.6V","v":0.6,"y":8.3e7},{"p":"H","s":"OPD_0.6V","v":0.7,"y":8.9e7},{"p":"H","s":"OPD_0.6V","v":0.8,"y":1e8},{"p":"H","s":"OPD_0.6V","v":0.9,"y":1.04e8},{"p":"H","s":"OPD_0.6V","v":1.0,"y":1.14e8},{"p":"H","s":"OPD_0.6V","v":1.1,"y":1.25e8},{"p":"H","s":"OPD_0.6V","v":1.2,"y":1.25e8},{"p":"H","s":"OPD_0.6V","v":1.3,"y":1.4e8},{"p":"H","s":"OPD_0.6V","v":1.4,"y":1.5e8},{"p":"H","s":"OPD_0.6V","v":1.5,"y":1.7e8},
      {"p":"H","s":"OPD_1.2V","v":-1.5,"y":1.8e8},{"p":"H","s":"OPD_1.2V","v":-1.48,"y":3.4e8},{"p":"H","s":"OPD_1.2V","v":-1.45,"y":3.3e8},{"p":"H","s":"OPD_1.2V","v":-1.4,"y":3.1e8},{"p":"H","s":"OPD_1.2V","v":-1.3,"y":3.6e8},{"p":"H","s":"OPD_1.2V","v":-1.2,"y":3.3e8},{"p":"H","s":"OPD_1.2V","v":-1.1,"y":3.1e8},{"p":"H","s":"OPD_1.2V","v":-1.0,"y":2.9e8},{"p":"H","s":"OPD_1.2V","v":-0.9,"y":2.6e8},{"p":"H","s":"OPD_1.2V","v":-0.8,"y":2.4e8},{"p":"H","s":"OPD_1.2V","v":-0.7,"y":2.1e8},{"p":"H","s":"OPD_1.2V","v":-0.6,"y":1.8e8},{"p":"H","s":"OPD_1.2V","v":-0.5,"y":1.56e8},{"p":"H","s":"OPD_1.2V","v":-0.4,"y":1.3e8},{"p":"H","s":"OPD_1.2V","v":-0.3,"y":1.1e8},{"p":"H","s":"OPD_1.2V","v":-0.2,"y":8.3e7},{"p":"H","s":"OPD_1.2V","v":-0.15,"y":6.3e7},{"p":"H","s":"OPD_1.2V","v":-0.1,"y":4.5e7},{"p":"H","s":"OPD_1.2V","v":-0.05,"y":3.1e7},{"p":"H","s":"OPD_1.2V","v":0.0,"y":2.1e7},{"p":"H","s":"OPD_1.2V","v":0.05,"y":3.6e7},{"p":"H","s":"OPD_1.2V","v":0.1,"y":5.6e7},{"p":"H","s":"OPD_1.2V","v":0.2,"y":8.3e7},{"p":"H","s":"OPD_1.2V","v":0.3,"y":1.1e8},{"p":"H","s":"OPD_1.2V","v":0.4,"y":1.3e8},{"p":"H","s":"OPD_1.2V","v":0.5,"y":1.56e8},{"p":"H","s":"OPD_1.2V","v":0.6,"y":1.8e8},{"p":"H","s":"OPD_1.2V","v":0.7,"y":2.1e8},{"p":"H","s":"OPD_1.2V","v":0.8,"y":2.4e8},{"p":"H","s":"OPD_1.2V","v":0.9,"y":2.6e8},{"p":"H","s":"OPD_1.2V","v":1.0,"y":2.9e8},{"p":"H","s":"OPD_1.2V","v":1.1,"y":3.1e8},{"p":"H","s":"OPD_1.2V","v":1.2,"y":3.3e8},{"p":"H","s":"OPD_1.2V","v":1.3,"y":3.6e8},{"p":"H","s":"OPD_1.2V","v":1.4,"y":3.8e8},{"p":"H","s":"OPD_1.2V","v":1.5,"y":4.5e8},
      {"p":"H","s":"OPD_1.8V","v":-1.5,"y":3.1e7},{"p":"H","s":"OPD_1.8V","v":-1.48,"y":1e7},{"p":"H","s":"OPD_1.8V","v":-1.45,"y":3.1e7},{"p":"H","s":"OPD_1.8V","v":-1.4,"y":4.2e7},{"p":"H","s":"OPD_1.8V","v":-1.35,"y":4.5e7},{"p":"H","s":"OPD_1.8V","v":-1.3,"y":5e7},{"p":"H","s":"OPD_1.8V","v":-1.2,"y":4.8e7},{"p":"H","s":"OPD_1.8V","v":-1.1,"y":4.5e7},{"p":"H","s":"OPD_1.8V","v":-1.0,"y":4.5e7},{"p":"H","s":"OPD_1.8V","v":-0.9,"y":4.2e7},{"p":"H","s":"OPD_1.8V","v":-0.8,"y":3.6e7},{"p":"H","s":"OPD_1.8V","v":-0.7,"y":3.3e7},{"p":"H","s":"OPD_1.8V","v":-0.6,"y":3.1e7},{"p":"H","s":"OPD_1.8V","v":-0.5,"y":2.8e7},{"p":"H","s":"OPD_1.8V","v":-0.4,"y":2.5e7},{"p":"H","s":"OPD_1.8V","v":-0.3,"y":2.3e7},{"p":"H","s":"OPD_1.8V","v":-0.2,"y":1.7e7},{"p":"H","s":"OPD_1.8V","v":-0.15,"y":1e7},{"p":"H","s":"OPD_1.8V","v":-0.12,"y":2.5e7},{"p":"H","s":"OPD_1.8V","v":-0.1,"y":5e7},{"p":"H","s":"OPD_1.8V","v":-0.07,"y":3.1e7},{"p":"H","s":"OPD_1.8V","v":-0.03,"y":1.7e7},{"p":"H","s":"OPD_1.8V","v":0.0,"y":1.9e7},{"p":"H","s":"OPD_1.8V","v":0.05,"y":2.5e7},{"p":"H","s":"OPD_1.8V","v":0.1,"y":3.1e7},{"p":"H","s":"OPD_1.8V","v":0.2,"y":3.6e7},{"p":"H","s":"OPD_1.8V","v":0.3,"y":4.2e7},{"p":"H","s":"OPD_1.8V","v":0.4,"y":4.2e7},{"p":"H","s":"OPD_1.8V","v":0.5,"y":4.5e7},{"p":"H","s":"OPD_1.8V","v":0.6,"y":5e7},{"p":"H","s":"OPD_1.8V","v":0.7,"y":5e7},{"p":"H","s":"OPD_1.8V","v":0.8,"y":5.6e7},{"p":"H","s":"OPD_1.8V","v":0.9,"y":5e7},{"p":"H","s":"OPD_1.8V","v":1.0,"y":5e7},{"p":"H","s":"OPD_1.8V","v":1.1,"y":4.5e7},{"p":"H","s":"OPD_1.8V","v":1.2,"y":3.8e7},{"p":"H","s":"OPD_1.8V","v":1.25,"y":3.6e7},{"p":"H","s":"OPD_1.8V","v":1.3,"y":2.8e7},{"p":"H","s":"OPD_1.8V","v":1.35,"y":1.9e6},{"p":"H","s":"OPD_1.8V","v":1.4,"y":2.5e7},{"p":"H","s":"OPD_1.8V","v":1.45,"y":1.25e7},{"p":"H","s":"OPD_1.8V","v":1.5,"y":5e7}
    ],
    "bars": [
      {"opd":"OPD_0.0V","m":"Normalized R","val":4},{"opd":"OPD_0.0V","m":"Normalized NEP","val":67},{"opd":"OPD_0.0V","m":"Normalized D*","val":33},
      {"opd":"OPD_0.6V","m":"Normalized R","val":33},{"opd":"OPD_0.6V","m":"Normalized NEP","val":44},{"opd":"OPD_0.6V","m":"Normalized D*","val":50},
      {"opd":"OPD_1.2V","m":"Normalized R","val":100},{"opd":"OPD_1.2V","m":"Normalized NEP","val":22},{"opd":"OPD_1.2V","m":"Normalized D*","val":100},
      {"opd":"OPD_1.8V","m":"Normalized R","val":15},{"opd":"OPD_1.8V","m":"Normalized NEP","val":100},{"opd":"OPD_1.8V","m":"Normalized D*","val":22}
    ]
  },
  "columns": 3,
  "spacing": {"row": 32, "column": 5},
  "resolve": {"scale": {"color": "independent"}, "legend": {"color": "independent"}},
  "concat": [
    {
      "width": 157, "height": 120, "title": "A",
      "layer": [
        {"data": {"values": [{"v": 0}]}, "mark": {"type": "rule", "color": "#dddddd", "strokeWidth": 0.6}, "encoding": {"x": {"field": "v", "type": "quantitative"}}},
        {"data": {"name": "curves"}, "transform": [{"filter": "datum.p === 'A'"}], "mark": "line",
         "encoding": {
           "x": {"field": "v", "type": "quantitative", "scale": {"domain": [-1.57, 1.6], "nice": false, "zero": false}, "axis": {"title": "Voltage (V)", "values": [-1.5, -1, -0.5, 0, 0.5, 1, 1.5], "format": ".1f"}},
           "y": {"field": "y", "type": "quantitative", "scale": {"domain": [-1.3, 1.58], "nice": false, "zero": false}, "axis": {"title": "Dark Current (mA)", "values": [-1, -0.5, 0, 0.5, 1, 1.5], "format": ".1f"}},
           "color": {"field": "s", "type": "nominal", "scale": {"domain": ["OPD_0.0V", "OPD_0.6V", "OPD_1.2V", "OPD_1.8V"], "range": ["#473ca8", "#87cefa", "#40b89a", "#2f8f46"]}, "legend": {"title": null, "orient": "top-left"}}
         }}
      ]
    },
    {
      "width": 157, "height": 120, "title": "B",
      "layer": [
        {"data": {"values": [{"v": 0}]}, "mark": {"type": "rule", "color": "#dddddd", "strokeWidth": 0.6}, "encoding": {"x": {"field": "v", "type": "quantitative"}}},
        {"data": {"name": "curves"}, "transform": [{"filter": "datum.p === 'B'"}], "mark": "line",
         "encoding": {
           "x": {"field": "v", "type": "quantitative", "scale": {"domain": [-1.61, 1.59], "nice": false, "zero": false}, "axis": {"title": "Voltage (V)", "values": [-1.5, -1, -0.5, 0, 0.5, 1, 1.5], "format": ".1f"}},
           "y": {"field": "y", "type": "quantitative", "scale": {"domain": [-1.39, 1.73], "nice": false, "zero": false}, "axis": {"title": "Light Current (mA)", "values": [-1, -0.5, 0, 0.5, 1, 1.5], "format": ".1f"}},
           "color": {"field": "s", "type": "nominal", "scale": {"domain": ["OPD_0.0V", "OPD_0.6V", "OPD_1.2V", "OPD_1.8V"], "range": ["#473ca8", "#87cefa", "#40b89a", "#2f8f46"]}, "legend": {"title": null, "orient": "top-left"}}
         }}
      ]
    },
    {
      "width": 157, "height": 120, "title": "C",
      "layer": [
        {"data": {"values": [{"v": 0}]}, "mark": {"type": "rule", "color": "#dddddd", "strokeWidth": 0.6}, "encoding": {"x": {"field": "v", "type": "quantitative"}}},
        {"data": {"name": "curves"}, "transform": [{"filter": "datum.p === 'C'"}], "mark": "line",
         "encoding": {
           "x": {"field": "v", "type": "quantitative", "scale": {"domain": [-1.59, 1.6], "nice": false, "zero": false}, "axis": {"title": "Voltage (V)", "values": [-1.5, -1, -0.5, 0, 0.5, 1, 1.5], "format": ".1f"}},
           "y": {"field": "y", "type": "quantitative", "scale": {"domain": [-0.1, 2.72], "nice": false, "zero": false}, "axis": {"title": "ON/OFF Ratio (a.u.)", "values": [0, 0.5, 1, 1.5, 2, 2.5], "format": ".1f"}},
           "color": {"field": "s", "type": "nominal", "scale": {"domain": ["OPD_0.0V", "OPD_0.6V", "OPD_1.2V", "OPD_1.8V"], "range": ["#473ca8", "#87cefa", "#40b89a", "#2f8f46"]}, "legend": {"title": null, "orient": "top-right"}}
         }}
      ]
    },
    {
      "width": 157, "height": 120, "title": "D",
      "layer": [
        {"data": {"values": [{"v": 0}]}, "mark": {"type": "rule", "color": "#dddddd", "strokeWidth": 0.6}, "encoding": {"x": {"field": "v", "type": "quantitative"}}},
        {"data": {"name": "curves"}, "transform": [{"filter": "datum.p === 'D'"}], "mark": "line",
         "encoding": {
           "x": {"field": "v", "type": "quantitative", "scale": {"domain": [-1.55, 1.57], "nice": false, "zero": false}, "axis": {"title": "Voltage (V)", "values": [-1.5, -1, -0.5, 0, 0.5, 1, 1.5], "format": ".1f"}},
           "y": {"field": "y", "type": "quantitative", "scale": {"domain": [-2.2, 43.6], "nice": false, "zero": false}, "axis": {"title": "Responsivity (mA/W)", "values": [0, 10, 20, 30, 40], "format": "d"}},
           "color": {"field": "s", "type": "nominal", "scale": {"domain": ["OPD_0.0V", "OPD_0.6V", "OPD_1.2V", "OPD_1.8V"], "range": ["#473ca8", "#87cefa", "#40b89a", "#2f8f46"]}, "legend": {"title": null, "orient": "top-left"}}
         }}
      ]
    },
    {
      "width": 157, "height": 120, "title": "E",
      "layer": [
        {"data": {"values": [{"v": 0}]}, "mark": {"type": "rule", "color": "#dddddd", "strokeWidth": 0.6}, "encoding": {"x": {"field": "v", "type": "quantitative"}}},
        {"data": {"name": "curves"}, "transform": [{"filter": "datum.p === 'E'"}], "mark": "line",
         "encoding": {
           "x": {"field": "v", "type": "quantitative", "scale": {"domain": [-1.5, 1.52], "nice": false, "zero": false}, "axis": {"title": "Voltage (V)", "values": [-1, -0.5, 0, 0.5, 1, 1.5], "format": ".1f"}},
           "y": {"field": "y", "type": "quantitative", "scale": {"domain": [-1.13, 22.9], "nice": false, "zero": false}, "axis": {"title": "Noise Current (pA Hz⁻¹ᐟ²)", "values": [0, 5, 10, 15, 20], "format": "d"}},
           "color": {"field": "s", "type": "nominal", "scale": {"domain": ["OPD_0.0V", "OPD_0.6V", "OPD_1.2V", "OPD_1.8V"], "range": ["#473ca8", "#87cefa", "#40b89a", "#2f8f46"]}, "legend": {"title": null, "orient": "none", "legendX": 126, "legendY": 53}}
         }}
      ]
    },
    {
      "width": 157, "height": 120, "title": "F",
      "layer": [
        {"data": {"values": [{"v": 0}]}, "mark": {"type": "rule", "color": "#dddddd", "strokeWidth": 0.6}, "encoding": {"x": {"field": "v", "type": "quantitative"}}},
        {"data": {"name": "curves"}, "transform": [{"filter": "datum.p === 'F'"}], "mark": "line",
         "encoding": {
           "x": {"field": "v", "type": "quantitative", "scale": {"domain": [-1.55, 1.55], "nice": false, "zero": false}, "axis": {"title": "Voltage (V)", "values": [-1.5, -1, -0.5, 0, 0.5, 1, 1.5], "format": ".1f"}},
           "y": {"field": "y", "type": "quantitative", "scale": {"domain": [-0.006, 0.195], "nice": false, "zero": false}, "axis": {"title": "Photocurrent (mA)", "values": [0, 0.025, 0.05, 0.075, 0.1, 0.125, 0.15, 0.175], "format": ".3f"}},
           "color": {"field": "s", "type": "nominal", "scale": {"domain": ["OPD_0.0V", "OPD_0.6V", "OPD_1.2V", "OPD_1.8V"], "range": ["#473ca8", "#87cefa", "#40b89a", "#2f8f46"]}, "legend": {"title": null, "orient": "top-left"}}
         }}
      ]
    },
    {
      "width": 157, "height": 120, "title": "G",
      "layer": [
        {"data": {"values": [{"v": 0}]}, "mark": {"type": "rule", "color": "#dddddd", "strokeWidth": 0.6}, "encoding": {"x": {"field": "v", "type": "quantitative"}}},
        {"data": {"name": "curves"}, "transform": [{"filter": "datum.p === 'G'"}], "mark": "line",
         "encoding": {
           "x": {"field": "v", "type": "quantitative", "scale": {"domain": [-1.53, 1.54], "nice": false, "zero": false}, "axis": {"title": "Voltage (V)", "values": [-1.5, -1, -0.5, 0, 0.5, 1, 1.5], "format": ".1f"}},
           "y": {"field": "y", "type": "quantitative", "scale": {"type": "log", "domain": [0.4, 1070], "nice": false}, "axis": {"title": "NEP (nW Hz⁻¹ᐟ²)", "values": [1, 10, 100, 1000], "labelExpr": "'10' + ['⁰','¹','²','³','⁴','⁵','⁶','⁷','⁸','⁹'][round(log(datum.value)/LN10)]"}},
           "color": {"field": "s", "type": "nominal", "scale": {"domain": ["OPD_0.0V", "OPD_0.6V", "OPD_1.2V", "OPD_1.8V"], "range": ["#473ca8", "#87cefa", "#40b89a", "#2f8f46"]}, "legend": {"title": null, "orient": "top-left"}}
         }}
      ]
    },
    {
      "width": 157, "height": 120, "title": "H",
      "layer": [
        {"data": {"values": [{"v": 0}]}, "mark": {"type": "rule", "color": "#dddddd", "strokeWidth": 0.6}, "encoding": {"x": {"field": "v", "type": "quantitative"}}},
        {"data": {"name": "curves"}, "transform": [{"filter": "datum.p === 'H'"}], "mark": "line",
         "encoding": {
           "x": {"field": "v", "type": "quantitative", "scale": {"domain": [-1.52, 1.52], "nice": false, "zero": false}, "axis": {"title": "Voltage (V)", "values": [-1.5, -1, -0.5, 0, 0.5, 1, 1.5], "format": ".1f"}},
           "y": {"field": "y", "type": "quantitative", "scale": {"type": "log", "domain": [190000, 590000000], "nice": false}, "axis": {"title": "Specific Detectivity D* (cm Hz¹ᐟ² W⁻¹)", "values": [1000000, 10000000, 100000000], "labelExpr": "'10' + ['⁰','¹','²','³','⁴','⁵','⁶','⁷','⁸','⁹'][round(log(datum.value)/LN10)]"}},
           "color": {"field": "s", "type": "nominal", "scale": {"domain": ["OPD_0.0V", "OPD_0.6V", "OPD_1.2V", "OPD_1.8V"], "range": ["#473ca8", "#87cefa", "#40b89a", "#2f8f46"]}, "legend": {"title": null, "orient": "bottom-left"}}
         }}
      ]
    },
    {
      "width": 157, "height": 120, "title": "I",
      "data": {"name": "bars"},
      "mark": {"type": "bar"},
      "encoding": {
        "x": {"field": "opd", "type": "nominal", "sort": ["OPD_0.0V", "OPD_0.6V", "OPD_1.2V", "OPD_1.8V"], "scale": {"paddingInner": 0.25, "paddingOuter": 0.18}, "axis": {"title": null, "labelAngle": 0}},
        "xOffset": {"field": "m", "type": "nominal", "sort": ["Normalized R", "Normalized NEP", "Normalized D*"]},
        "y": {"field": "val", "type": "quantitative", "scale": {"domain": [0, 116], "nice": false}, "axis": {"title": "Normalized Value (%)", "values": [0, 20, 40, 60, 80, 100], "format": "d"}},
        "color": {"field": "m", "type": "nominal", "scale": {"domain": ["Normalized R", "Normalized NEP", "Normalized D*"], "range": ["#1f77b4", "#ff7f0e", "#2ca02c"]}, "legend": {"title": null, "orient": "top-left", "symbolType": "square", "symbolSize": 20, "symbolStrokeWidth": 0}}
      }
    }
  ]
}
